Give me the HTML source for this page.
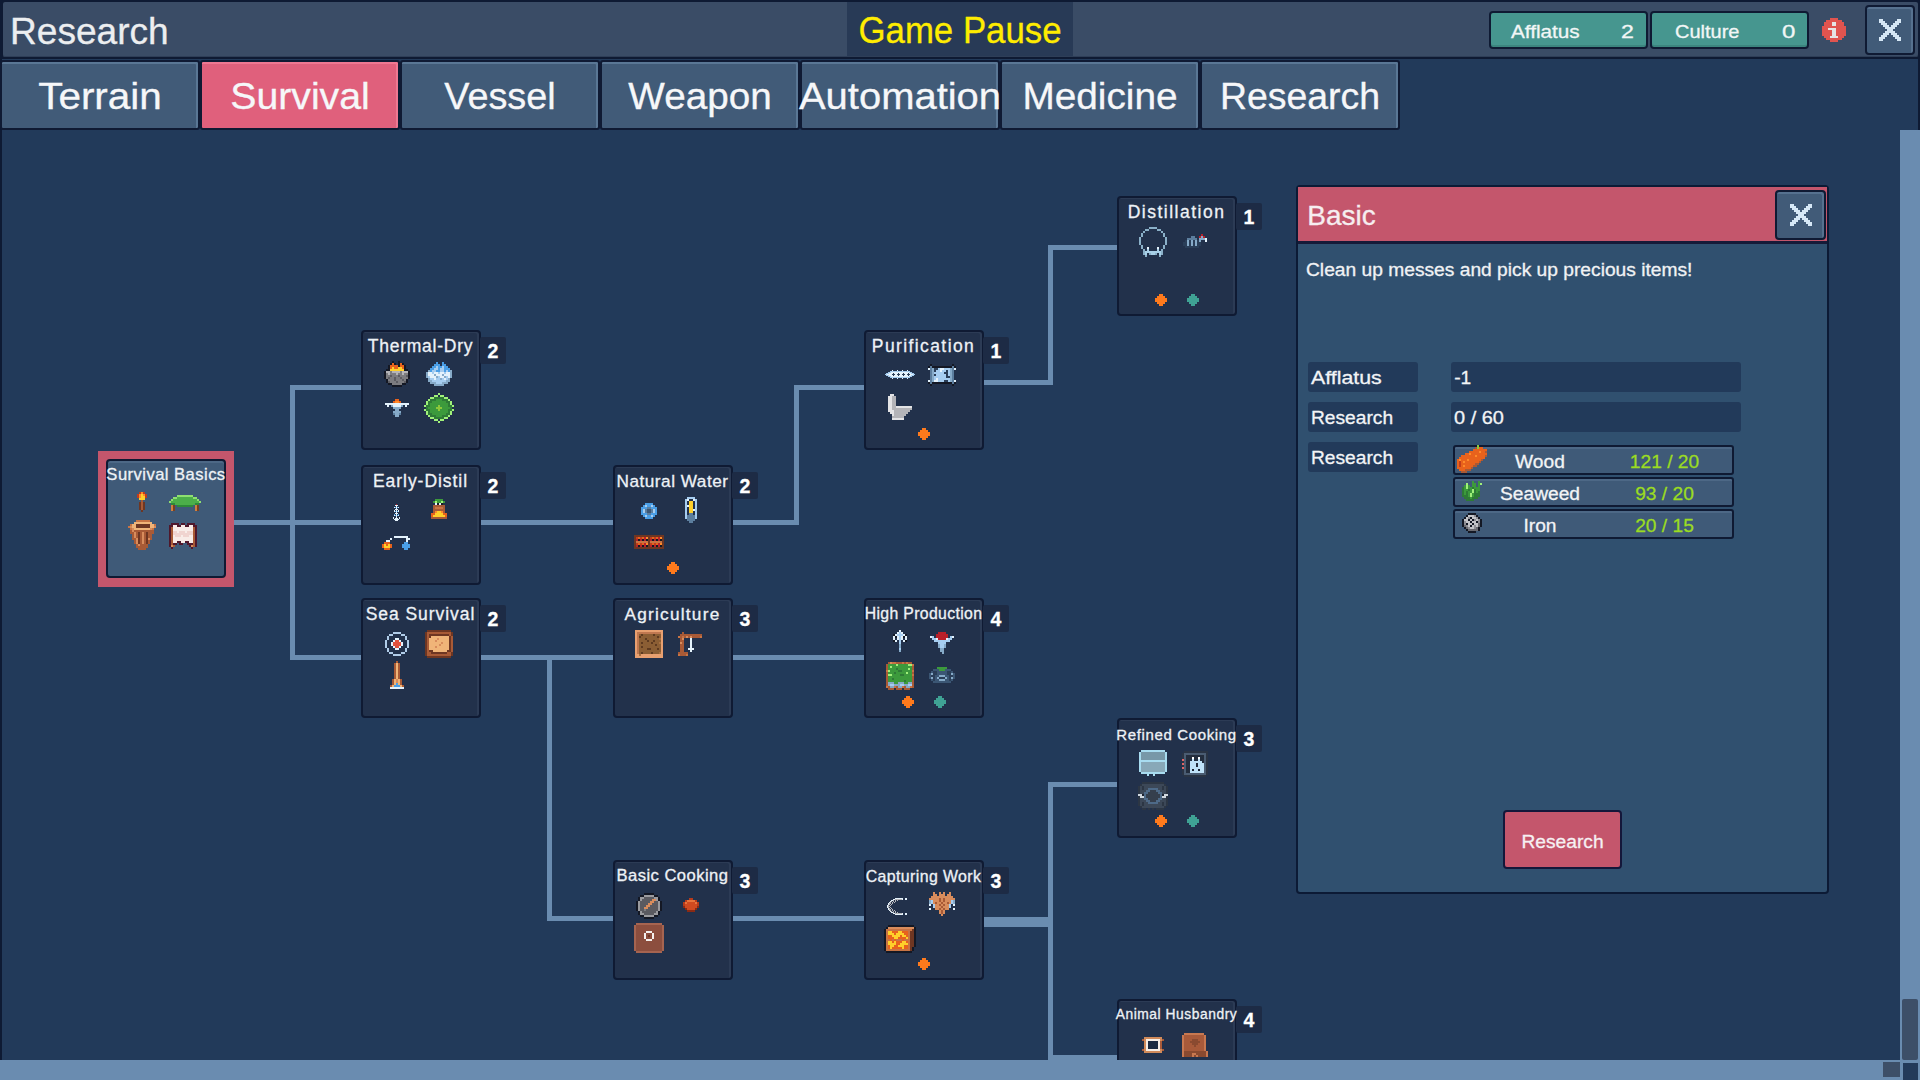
<!DOCTYPE html>
<html><head><meta charset="utf-8"><title>Research</title>
<style>
*{margin:0;padding:0;box-sizing:border-box;}
html,body{width:1920px;height:1080px;overflow:hidden;background:#0e1a33;font-family:"Liberation Sans",sans-serif;}
.a{position:absolute;}
.tx{position:absolute;white-space:nowrap;line-height:1;-webkit-text-stroke:0.3px currentColor;}
#hdr{left:3px;top:2px;width:1915px;height:55px;background:#3a4c66;box-shadow:inset 0 -1px 0 #2e3e57;border-radius:2px;}
#pause{left:847px;top:2px;width:226px;height:54px;background:#283a56;}
.res{top:11px;height:38px;background:#46968f;border:2px solid #0f1a33;border-radius:4px;box-shadow:inset 0 -2px 0 #3c857f;}
#info{left:1822px;top:18px;width:24px;height:24px;}
.xbtn{background:#415b78;border:2px solid #0f1a33;border-radius:4px;box-shadow:inset -2px 2px 0 #56718f;}
.tab{top:60px;width:200px;height:70px;background:#415b78;border:2px solid #0f1a33;box-shadow:inset -2px 2px 0 #5a7795;border-radius:3px;}
.tab.on{background:#e0607c;box-shadow:inset -2px 2px 0 #ef7892;}
#main{left:2px;top:59px;width:1916px;height:1001px;background:#223a5a;}
.ln{position:absolute;background:#6a8cb0;}
.node{position:absolute;width:120px;height:120px;background:#22314b;border:2px solid #0f1a33;border-radius:4px;box-shadow:inset -2px 1px 0 #2c3b55;}
.badge{position:absolute;width:26px;height:27px;background:#1d2b45;border-radius:2px;}
.dot{position:absolute;}
#panel{left:1296px;top:185px;width:533px;height:709px;background:#30506f;border:2px solid #0c1a35;border-radius:4px;}
#phead{left:0;top:0;width:529px;height:57px;background:#c4566c;border-bottom:3px solid #161a38;}
.lbl{position:absolute;height:30px;background:#223a5a;border-radius:3px;}
.rrow{position:absolute;width:281px;height:30px;background:#3f5a78;border:2px solid #0f1a33;border-radius:3px;box-shadow:inset 0 2px 0 #4d6886;}
#rbtn{left:1503px;top:810px;width:119px;height:59px;background:#c4566c;border:2px solid #14173a;border-radius:4px;}
svg{position:absolute;shape-rendering:crispEdges;overflow:visible;}
</style></head><body>
<div id="hdr" class="a"></div>
<div class="tx" style="left:9.5px;top:13.93px;font-size:36px;color:#eceef0;transform:scaleX(1.03);transform-origin:0 0;">Research</div>
<div id="pause" class="a"></div>
<div class="tx" style="left:960px;top:11.88px;font-size:37px;color:#ffec00;transform:translateX(-50%) scaleX(0.94);">Game Pause</div>
<div class="a res" style="left:1489px;width:159px;"></div>
<div class="a res" style="left:1650px;width:159px;"></div>
<div class="tx" style="left:1510.8px;top:22.54px;font-size:18.5px;color:#f2f6f6;transform:scaleX(1.12);transform-origin:0 0;">Afflatus</div>
<div class="tx" style="left:1621.1px;top:22.54px;font-size:18.5px;color:#f2f6f6;transform:scaleX(1.25);transform-origin:0 0;">2</div>
<div class="tx" style="left:1675.1px;top:22.54px;font-size:18.5px;color:#f2f6f6;transform:scaleX(1.08);transform-origin:0 0;">Culture</div>
<div class="tx" style="left:1781.7px;top:22.54px;font-size:18.5px;color:#f2f6f6;transform:scaleX(1.3);transform-origin:0 0;">0</div>
<svg style="left:1822px;top:18px;" width="24" height="24"><rect x="8" y="0" width="8" height="2" fill="#e0544f"/><rect x="4" y="2" width="16" height="2" fill="#e0544f"/><rect x="2" y="4" width="8" height="2" fill="#e0544f"/><rect x="10" y="4" width="4" height="2" fill="#e6e4e4"/><rect x="14" y="4" width="8" height="2" fill="#e0544f"/><rect x="2" y="6" width="8" height="2" fill="#e0544f"/><rect x="10" y="6" width="4" height="2" fill="#e6e4e4"/><rect x="14" y="6" width="8" height="2" fill="#e0544f"/><rect x="0" y="8" width="24" height="2" fill="#e0544f"/><rect x="0" y="10" width="6" height="2" fill="#e0544f"/><rect x="6" y="10" width="8" height="2" fill="#e6e4e4"/><rect x="14" y="10" width="10" height="2" fill="#e0544f"/><rect x="0" y="12" width="10" height="2" fill="#e0544f"/><rect x="10" y="12" width="4" height="2" fill="#e6e4e4"/><rect x="14" y="12" width="10" height="2" fill="#e0544f"/><rect x="0" y="14" width="10" height="2" fill="#e0544f"/><rect x="10" y="14" width="4" height="2" fill="#e6e4e4"/><rect x="14" y="14" width="10" height="2" fill="#e0544f"/><rect x="0" y="16" width="10" height="2" fill="#e0544f"/><rect x="10" y="16" width="4" height="2" fill="#e6e4e4"/><rect x="14" y="16" width="10" height="2" fill="#e0544f"/><rect x="2" y="18" width="6" height="2" fill="#e0544f"/><rect x="8" y="18" width="8" height="2" fill="#e6e4e4"/><rect x="16" y="18" width="6" height="2" fill="#e0544f"/><rect x="4" y="20" width="16" height="2" fill="#e0544f"/><rect x="8" y="22" width="8" height="2" fill="#e0544f"/></svg>
<div class="a xbtn" style="left:1865px;top:5px;width:50px;height:50px;"></div>
<svg style="left:1879px;top:19px;" width="22" height="22"><rect x="0" y="0" width="4" height="2" fill="#d6e8f6"/><rect x="18" y="0" width="4" height="2" fill="#d6e8f6"/><rect x="0" y="2" width="6" height="2" fill="#d6e8f6"/><rect x="16" y="2" width="6" height="2" fill="#d6e8f6"/><rect x="2" y="4" width="6" height="2" fill="#d6e8f6"/><rect x="14" y="4" width="6" height="2" fill="#d6e8f6"/><rect x="4" y="6" width="6" height="2" fill="#d6e8f6"/><rect x="12" y="6" width="6" height="2" fill="#d6e8f6"/><rect x="6" y="8" width="10" height="2" fill="#d6e8f6"/><rect x="8" y="10" width="6" height="2" fill="#d6e8f6"/><rect x="6" y="12" width="10" height="2" fill="#d6e8f6"/><rect x="4" y="14" width="6" height="2" fill="#d6e8f6"/><rect x="12" y="14" width="6" height="2" fill="#d6e8f6"/><rect x="2" y="16" width="6" height="2" fill="#d6e8f6"/><rect x="14" y="16" width="6" height="2" fill="#d6e8f6"/><rect x="0" y="18" width="6" height="2" fill="#d6e8f6"/><rect x="16" y="18" width="6" height="2" fill="#d6e8f6"/><rect x="0" y="20" width="4" height="2" fill="#d6e8f6"/><rect x="18" y="20" width="4" height="2" fill="#d6e8f6"/></svg>
<div id="main" class="a"></div>
<div class="a tab" style="left:0px;"></div>
<div class="tx" style="left:100px;top:78.53px;font-size:36px;color:#f6f7f9;transform:translateX(-50%) scaleX(1.124);">Terrain</div>
<div class="a tab on" style="left:200px;"></div>
<div class="tx" style="left:300px;top:78.53px;font-size:36px;color:#f6f7f9;transform:translateX(-50%) scaleX(1.09);">Survival</div>
<div class="a tab" style="left:400px;"></div>
<div class="tx" style="left:500px;top:78.53px;font-size:36px;color:#f6f7f9;transform:translateX(-50%) scaleX(1.05);">Vessel</div>
<div class="a tab" style="left:600px;"></div>
<div class="tx" style="left:700px;top:78.53px;font-size:36px;color:#f6f7f9;transform:translateX(-50%) scaleX(1.074);">Weapon</div>
<div class="a tab" style="left:800px;"></div>
<div class="tx" style="left:900px;top:78.53px;font-size:36px;color:#f6f7f9;transform:translateX(-50%) scaleX(1.11);">Automation</div>
<div class="a tab" style="left:1000px;"></div>
<div class="tx" style="left:1100px;top:78.53px;font-size:36px;color:#f6f7f9;transform:translateX(-50%) scaleX(1.077);">Medicine</div>
<div class="a tab" style="left:1200px;"></div>
<div class="tx" style="left:1300px;top:78.53px;font-size:36px;color:#f6f7f9;transform:translateX(-50%) scaleX(1.039);">Research</div>
<div class="ln" style="left:234px;top:520px;width:127px;height:5px;"></div>
<div class="ln" style="left:290px;top:385px;width:5px;height:275px;"></div>
<div class="ln" style="left:290px;top:385px;width:71px;height:5px;"></div>
<div class="ln" style="left:290px;top:655px;width:71px;height:5px;"></div>
<div class="ln" style="left:480px;top:520px;width:133px;height:5px;"></div>
<div class="ln" style="left:732px;top:520px;width:67px;height:5px;"></div>
<div class="ln" style="left:794px;top:385px;width:5px;height:140px;"></div>
<div class="ln" style="left:794px;top:385px;width:70px;height:5px;"></div>
<div class="ln" style="left:983px;top:380px;width:70px;height:5px;"></div>
<div class="ln" style="left:1048px;top:245px;width:5px;height:140px;"></div>
<div class="ln" style="left:1048px;top:245px;width:69px;height:5px;"></div>
<div class="ln" style="left:480px;top:655px;width:133px;height:5px;"></div>
<div class="ln" style="left:547px;top:655px;width:5px;height:266px;"></div>
<div class="ln" style="left:547px;top:916px;width:66px;height:5px;"></div>
<div class="ln" style="left:732px;top:655px;width:132px;height:5px;"></div>
<div class="ln" style="left:732px;top:916px;width:132px;height:5px;"></div>
<div class="ln" style="left:983px;top:917px;width:70px;height:10px;"></div>
<div class="ln" style="left:1048px;top:782px;width:5px;height:280px;"></div>
<div class="ln" style="left:1048px;top:782px;width:69px;height:5px;"></div>
<div class="ln" style="left:1048px;top:1055px;width:69px;height:5px;"></div>
<div class="node" style="left:361px;top:330px;"></div>
<div class="badge" style="left:480px;top:337px;"></div>
<div class="tx" style="left:420.5px;top:337.99px;font-size:17.5px;color:#eef2f6;letter-spacing:0.75px;transform:translateX(-50%);">Thermal-Dry</div>
<div class="tx" style="left:493px;top:342.29px;font-size:19.5px;color:#ffffff;font-weight:bold;transform:translateX(-50%);">2</div>
<svg style="left:384px;top:361px;" width="26" height="26"><rect x="8" y="0" width="2" height="2" fill="#141824"/><rect x="14" y="0" width="2" height="2" fill="#141824"/><rect x="6" y="2" width="2" height="2" fill="#141824"/><rect x="8" y="2" width="2" height="2" fill="#e8621c"/><rect x="10" y="2" width="2" height="2" fill="#141824"/><rect x="14" y="2" width="2" height="2" fill="#141824"/><rect x="16" y="2" width="2" height="2" fill="#e8621c"/><rect x="18" y="2" width="2" height="2" fill="#141824"/><rect x="4" y="4" width="2" height="2" fill="#141824"/><rect x="6" y="4" width="8" height="2" fill="#e8621c"/><rect x="14" y="4" width="2" height="2" fill="#141824"/><rect x="16" y="4" width="4" height="2" fill="#e8621c"/><rect x="20" y="4" width="2" height="2" fill="#141824"/><rect x="4" y="6" width="2" height="2" fill="#141824"/><rect x="6" y="6" width="2" height="2" fill="#e8621c"/><rect x="8" y="6" width="2" height="2" fill="#ffd02a"/><rect x="10" y="6" width="4" height="2" fill="#e8621c"/><rect x="14" y="6" width="4" height="2" fill="#ffd02a"/><rect x="18" y="6" width="2" height="2" fill="#e8621c"/><rect x="20" y="6" width="2" height="2" fill="#141824"/><rect x="2" y="8" width="4" height="2" fill="#141824"/><rect x="6" y="8" width="14" height="2" fill="#ffd02a"/><rect x="20" y="8" width="4" height="2" fill="#141824"/><rect x="0" y="10" width="2" height="2" fill="#141824"/><rect x="2" y="10" width="4" height="2" fill="#b4b4b8"/><rect x="6" y="10" width="2" height="2" fill="#7c7c80"/><rect x="8" y="10" width="8" height="2" fill="#b4b4b8"/><rect x="16" y="10" width="2" height="2" fill="#7c7c80"/><rect x="18" y="10" width="6" height="2" fill="#b4b4b8"/><rect x="24" y="10" width="2" height="2" fill="#141824"/><rect x="0" y="12" width="2" height="2" fill="#141824"/><rect x="2" y="12" width="2" height="2" fill="#7c7c80"/><rect x="4" y="12" width="2" height="2" fill="#b4b4b8"/><rect x="6" y="12" width="6" height="2" fill="#7c7c80"/><rect x="12" y="12" width="2" height="2" fill="#b4b4b8"/><rect x="14" y="12" width="4" height="2" fill="#7c7c80"/><rect x="18" y="12" width="2" height="2" fill="#b4b4b8"/><rect x="20" y="12" width="4" height="2" fill="#7c7c80"/><rect x="24" y="12" width="2" height="2" fill="#141824"/><rect x="0" y="14" width="2" height="2" fill="#141824"/><rect x="2" y="14" width="4" height="2" fill="#7c7c80"/><rect x="6" y="14" width="2" height="2" fill="#5c5c62"/><rect x="8" y="14" width="6" height="2" fill="#7c7c80"/><rect x="14" y="14" width="2" height="2" fill="#5c5c62"/><rect x="16" y="14" width="6" height="2" fill="#7c7c80"/><rect x="22" y="14" width="2" height="2" fill="#5c5c62"/><rect x="24" y="14" width="2" height="2" fill="#141824"/><rect x="0" y="16" width="2" height="2" fill="#141824"/><rect x="2" y="16" width="2" height="2" fill="#7c7c80"/><rect x="4" y="16" width="2" height="2" fill="#5c5c62"/><rect x="6" y="16" width="4" height="2" fill="#7c7c80"/><rect x="10" y="16" width="2" height="2" fill="#5c5c62"/><rect x="12" y="16" width="4" height="2" fill="#7c7c80"/><rect x="16" y="16" width="2" height="2" fill="#5c5c62"/><rect x="18" y="16" width="6" height="2" fill="#7c7c80"/><rect x="24" y="16" width="2" height="2" fill="#141824"/><rect x="2" y="18" width="2" height="2" fill="#141824"/><rect x="4" y="18" width="6" height="2" fill="#7c7c80"/><rect x="10" y="18" width="2" height="2" fill="#5c5c62"/><rect x="12" y="18" width="6" height="2" fill="#7c7c80"/><rect x="18" y="18" width="2" height="2" fill="#5c5c62"/><rect x="20" y="18" width="2" height="2" fill="#7c7c80"/><rect x="22" y="18" width="2" height="2" fill="#141824"/><rect x="2" y="20" width="2" height="2" fill="#141824"/><rect x="4" y="20" width="2" height="2" fill="#5c5c62"/><rect x="6" y="20" width="6" height="2" fill="#7c7c80"/><rect x="12" y="20" width="2" height="2" fill="#5c5c62"/><rect x="14" y="20" width="6" height="2" fill="#7c7c80"/><rect x="20" y="20" width="2" height="2" fill="#5c5c62"/><rect x="22" y="20" width="2" height="2" fill="#141824"/><rect x="4" y="22" width="4" height="2" fill="#141824"/><rect x="8" y="22" width="10" height="2" fill="#7c7c80"/><rect x="18" y="22" width="4" height="2" fill="#141824"/><rect x="8" y="24" width="10" height="2" fill="#141824"/></svg>
<svg style="left:426px;top:362px;" width="26" height="24"><rect x="10" y="0" width="2" height="2" fill="#4a9ee6"/><rect x="16" y="0" width="2" height="2" fill="#4a9ee6"/><rect x="8" y="2" width="6" height="2" fill="#4a9ee6"/><rect x="16" y="2" width="4" height="2" fill="#4a9ee6"/><rect x="6" y="4" width="4" height="2" fill="#4a9ee6"/><rect x="10" y="4" width="2" height="2" fill="#a6cdf0"/><rect x="12" y="4" width="4" height="2" fill="#4a9ee6"/><rect x="16" y="4" width="2" height="2" fill="#a6cdf0"/><rect x="18" y="4" width="4" height="2" fill="#4a9ee6"/><rect x="4" y="6" width="4" height="2" fill="#4a9ee6"/><rect x="8" y="6" width="4" height="2" fill="#a6cdf0"/><rect x="12" y="6" width="2" height="2" fill="#4a9ee6"/><rect x="14" y="6" width="4" height="2" fill="#a6cdf0"/><rect x="18" y="6" width="6" height="2" fill="#4a9ee6"/><rect x="2" y="8" width="2" height="2" fill="#86aac8"/><rect x="4" y="8" width="2" height="2" fill="#4a9ee6"/><rect x="6" y="8" width="4" height="2" fill="#a6cdf0"/><rect x="10" y="8" width="4" height="2" fill="#4a9ee6"/><rect x="14" y="8" width="4" height="2" fill="#a6cdf0"/><rect x="18" y="8" width="2" height="2" fill="#4a9ee6"/><rect x="20" y="8" width="2" height="2" fill="#a6cdf0"/><rect x="22" y="8" width="2" height="2" fill="#4a9ee6"/><rect x="24" y="8" width="2" height="2" fill="#86aac8"/><rect x="0" y="10" width="2" height="2" fill="#86aac8"/><rect x="2" y="10" width="4" height="2" fill="#e4f2fc"/><rect x="6" y="10" width="2" height="2" fill="#a6cdf0"/><rect x="8" y="10" width="4" height="2" fill="#e4f2fc"/><rect x="12" y="10" width="2" height="2" fill="#a6cdf0"/><rect x="14" y="10" width="4" height="2" fill="#e4f2fc"/><rect x="18" y="10" width="2" height="2" fill="#a6cdf0"/><rect x="20" y="10" width="4" height="2" fill="#e4f2fc"/><rect x="24" y="10" width="2" height="2" fill="#86aac8"/><rect x="0" y="12" width="2" height="2" fill="#86aac8"/><rect x="2" y="12" width="6" height="2" fill="#e4f2fc"/><rect x="8" y="12" width="2" height="2" fill="#86aac8"/><rect x="10" y="12" width="6" height="2" fill="#e4f2fc"/><rect x="16" y="12" width="2" height="2" fill="#86aac8"/><rect x="18" y="12" width="6" height="2" fill="#e4f2fc"/><rect x="24" y="12" width="2" height="2" fill="#86aac8"/><rect x="0" y="14" width="2" height="2" fill="#86aac8"/><rect x="2" y="14" width="2" height="2" fill="#a6cdf0"/><rect x="4" y="14" width="6" height="2" fill="#e4f2fc"/><rect x="10" y="14" width="2" height="2" fill="#86aac8"/><rect x="12" y="14" width="2" height="2" fill="#a6cdf0"/><rect x="14" y="14" width="4" height="2" fill="#e4f2fc"/><rect x="18" y="14" width="2" height="2" fill="#86aac8"/><rect x="20" y="14" width="2" height="2" fill="#a6cdf0"/><rect x="22" y="14" width="2" height="2" fill="#e4f2fc"/><rect x="24" y="14" width="2" height="2" fill="#86aac8"/><rect x="2" y="16" width="2" height="2" fill="#86aac8"/><rect x="4" y="16" width="4" height="2" fill="#a6cdf0"/><rect x="8" y="16" width="2" height="2" fill="#e4f2fc"/><rect x="10" y="16" width="4" height="2" fill="#a6cdf0"/><rect x="14" y="16" width="2" height="2" fill="#86aac8"/><rect x="16" y="16" width="2" height="2" fill="#a6cdf0"/><rect x="18" y="16" width="2" height="2" fill="#e4f2fc"/><rect x="20" y="16" width="2" height="2" fill="#a6cdf0"/><rect x="22" y="16" width="2" height="2" fill="#86aac8"/><rect x="2" y="18" width="4" height="2" fill="#86aac8"/><rect x="6" y="18" width="14" height="2" fill="#a6cdf0"/><rect x="20" y="18" width="4" height="2" fill="#86aac8"/><rect x="4" y="20" width="6" height="2" fill="#86aac8"/><rect x="10" y="20" width="6" height="2" fill="#a6cdf0"/><rect x="16" y="20" width="6" height="2" fill="#86aac8"/><rect x="8" y="22" width="10" height="2" fill="#86aac8"/></svg>
<svg style="left:385px;top:399px;" width="24" height="18"><rect x="10" y="0" width="4" height="2" fill="#e8621c"/><rect x="8" y="2" width="2" height="2" fill="#e8621c"/><rect x="10" y="2" width="4" height="2" fill="#ff8a2a"/><rect x="14" y="2" width="2" height="2" fill="#e8621c"/><rect x="0" y="4" width="24" height="2" fill="#e4f2fc"/><rect x="2" y="6" width="2" height="2" fill="#e4f2fc"/><rect x="6" y="6" width="2" height="2" fill="#86aac8"/><rect x="8" y="6" width="8" height="2" fill="#e4f2fc"/><rect x="16" y="6" width="2" height="2" fill="#86aac8"/><rect x="20" y="6" width="2" height="2" fill="#e4f2fc"/><rect x="8" y="8" width="8" height="2" fill="#86aac8"/><rect x="10" y="10" width="4" height="2" fill="#86aac8"/><rect x="8" y="12" width="8" height="2" fill="#86aac8"/><rect x="8" y="14" width="2" height="2" fill="#5c7e9e"/><rect x="10" y="14" width="4" height="2" fill="#86aac8"/><rect x="14" y="14" width="2" height="2" fill="#5c7e9e"/><rect x="10" y="16" width="4" height="2" fill="#86aac8"/></svg>
<svg style="left:424px;top:393px;" width="30" height="30"><rect x="14" y="0" width="2" height="2" fill="#a0f07a"/><rect x="10" y="2" width="4" height="2" fill="#a0f07a"/><rect x="16" y="2" width="4" height="2" fill="#a0f07a"/><rect x="6" y="4" width="4" height="2" fill="#a0f07a"/><rect x="10" y="4" width="10" height="2" fill="#2e7a36"/><rect x="20" y="4" width="4" height="2" fill="#a0f07a"/><rect x="4" y="6" width="2" height="2" fill="#a0f07a"/><rect x="6" y="6" width="6" height="2" fill="#2e7a36"/><rect x="12" y="6" width="6" height="2" fill="#3c9a3c"/><rect x="18" y="6" width="6" height="2" fill="#2e7a36"/><rect x="24" y="6" width="2" height="2" fill="#a0f07a"/><rect x="2" y="8" width="2" height="2" fill="#a0f07a"/><rect x="4" y="8" width="4" height="2" fill="#2e7a36"/><rect x="8" y="8" width="14" height="2" fill="#3c9a3c"/><rect x="22" y="8" width="4" height="2" fill="#2e7a36"/><rect x="26" y="8" width="2" height="2" fill="#a0f07a"/><rect x="2" y="10" width="2" height="2" fill="#a0f07a"/><rect x="4" y="10" width="2" height="2" fill="#2e7a36"/><rect x="6" y="10" width="18" height="2" fill="#3c9a3c"/><rect x="24" y="10" width="2" height="2" fill="#2e7a36"/><rect x="26" y="10" width="2" height="2" fill="#a0f07a"/><rect x="0" y="12" width="2" height="2" fill="#a0f07a"/><rect x="2" y="12" width="4" height="2" fill="#2e7a36"/><rect x="6" y="12" width="8" height="2" fill="#3c9a3c"/><rect x="14" y="12" width="2" height="2" fill="#8cc83a"/><rect x="16" y="12" width="8" height="2" fill="#3c9a3c"/><rect x="24" y="12" width="4" height="2" fill="#2e7a36"/><rect x="28" y="12" width="2" height="2" fill="#a0f07a"/><rect x="2" y="14" width="2" height="2" fill="#2e7a36"/><rect x="4" y="14" width="8" height="2" fill="#3c9a3c"/><rect x="12" y="14" width="6" height="2" fill="#8cc83a"/><rect x="18" y="14" width="8" height="2" fill="#3c9a3c"/><rect x="26" y="14" width="2" height="2" fill="#2e7a36"/><rect x="0" y="16" width="2" height="2" fill="#a0f07a"/><rect x="2" y="16" width="4" height="2" fill="#2e7a36"/><rect x="6" y="16" width="8" height="2" fill="#3c9a3c"/><rect x="14" y="16" width="2" height="2" fill="#8cc83a"/><rect x="16" y="16" width="8" height="2" fill="#3c9a3c"/><rect x="24" y="16" width="4" height="2" fill="#2e7a36"/><rect x="28" y="16" width="2" height="2" fill="#a0f07a"/><rect x="2" y="18" width="2" height="2" fill="#a0f07a"/><rect x="4" y="18" width="2" height="2" fill="#2e7a36"/><rect x="6" y="18" width="18" height="2" fill="#3c9a3c"/><rect x="24" y="18" width="2" height="2" fill="#2e7a36"/><rect x="26" y="18" width="2" height="2" fill="#a0f07a"/><rect x="2" y="20" width="2" height="2" fill="#a0f07a"/><rect x="4" y="20" width="4" height="2" fill="#2e7a36"/><rect x="8" y="20" width="14" height="2" fill="#3c9a3c"/><rect x="22" y="20" width="4" height="2" fill="#2e7a36"/><rect x="26" y="20" width="2" height="2" fill="#a0f07a"/><rect x="4" y="22" width="2" height="2" fill="#a0f07a"/><rect x="6" y="22" width="6" height="2" fill="#2e7a36"/><rect x="12" y="22" width="6" height="2" fill="#3c9a3c"/><rect x="18" y="22" width="6" height="2" fill="#2e7a36"/><rect x="24" y="22" width="2" height="2" fill="#a0f07a"/><rect x="6" y="24" width="4" height="2" fill="#a0f07a"/><rect x="10" y="24" width="10" height="2" fill="#2e7a36"/><rect x="20" y="24" width="4" height="2" fill="#a0f07a"/><rect x="10" y="26" width="4" height="2" fill="#a0f07a"/><rect x="16" y="26" width="4" height="2" fill="#a0f07a"/><rect x="14" y="28" width="2" height="2" fill="#a0f07a"/></svg>
<div class="node" style="left:361px;top:465px;"></div>
<div class="badge" style="left:480px;top:472px;"></div>
<div class="tx" style="left:420.5px;top:472.99px;font-size:17.5px;color:#eef2f6;letter-spacing:0.95px;transform:translateX(-50%);">Early-Distil</div>
<div class="tx" style="left:493px;top:477.29px;font-size:19.5px;color:#ffffff;font-weight:bold;transform:translateX(-50%);">2</div>
<svg style="left:392px;top:504px;" width="9" height="17"><rect x="4" y="0" width="1" height="1" fill="#b8202a"/><rect x="3" y="1" width="3" height="1" fill="#e4f2fc"/><rect x="4" y="2" width="1" height="1" fill="#e4f2fc"/><rect x="2" y="3" width="1" height="1" fill="#e4f2fc"/><rect x="3" y="3" width="1" height="1" fill="#4a9ee6"/><rect x="4" y="3" width="1" height="1" fill="#e4f2fc"/><rect x="5" y="3" width="1" height="1" fill="#4a9ee6"/><rect x="6" y="3" width="1" height="1" fill="#e4f2fc"/><rect x="4" y="4" width="1" height="1" fill="#e4f2fc"/><rect x="3" y="5" width="3" height="1" fill="#e4f2fc"/><rect x="2" y="6" width="1" height="1" fill="#e4f2fc"/><rect x="4" y="6" width="1" height="1" fill="#e4f2fc"/><rect x="6" y="6" width="1" height="1" fill="#e4f2fc"/><rect x="2" y="7" width="1" height="1" fill="#e4f2fc"/><rect x="3" y="7" width="1" height="1" fill="#4a9ee6"/><rect x="4" y="7" width="1" height="1" fill="#e4f2fc"/><rect x="5" y="7" width="1" height="1" fill="#4a9ee6"/><rect x="6" y="7" width="1" height="1" fill="#e4f2fc"/><rect x="4" y="8" width="1" height="1" fill="#e4f2fc"/><rect x="3" y="9" width="3" height="1" fill="#e4f2fc"/><rect x="2" y="10" width="1" height="1" fill="#4a9ee6"/><rect x="4" y="10" width="1" height="1" fill="#e4f2fc"/><rect x="6" y="10" width="1" height="1" fill="#4a9ee6"/><rect x="2" y="11" width="1" height="1" fill="#e4f2fc"/><rect x="3" y="11" width="1" height="1" fill="#4a9ee6"/><rect x="4" y="11" width="1" height="1" fill="#e4f2fc"/><rect x="5" y="11" width="1" height="1" fill="#4a9ee6"/><rect x="6" y="11" width="1" height="1" fill="#e4f2fc"/><rect x="4" y="12" width="1" height="1" fill="#e4f2fc"/><rect x="1" y="13" width="1" height="1" fill="#e4f2fc"/><rect x="4" y="13" width="1" height="1" fill="#e4f2fc"/><rect x="7" y="13" width="1" height="1" fill="#e4f2fc"/><rect x="1" y="14" width="1" height="1" fill="#e4f2fc"/><rect x="3" y="14" width="3" height="1" fill="#e4f2fc"/><rect x="7" y="14" width="1" height="1" fill="#e4f2fc"/><rect x="2" y="15" width="5" height="1" fill="#e4f2fc"/><rect x="3" y="16" width="3" height="1" fill="#e4f2fc"/></svg>
<svg style="left:431px;top:499px;" width="16" height="20"><rect x="4" y="0" width="8" height="2" fill="#3c9a3c"/><rect x="2" y="2" width="2" height="2" fill="#3c9a3c"/><rect x="4" y="2" width="2" height="2" fill="#a0f07a"/><rect x="6" y="2" width="4" height="2" fill="#3c9a3c"/><rect x="10" y="2" width="2" height="2" fill="#a0f07a"/><rect x="12" y="2" width="2" height="2" fill="#3c9a3c"/><rect x="4" y="4" width="2" height="2" fill="#e4f2fc"/><rect x="6" y="4" width="2" height="2" fill="#141824"/><rect x="8" y="4" width="2" height="2" fill="#e4f2fc"/><rect x="10" y="4" width="2" height="2" fill="#141824"/><rect x="2" y="6" width="12" height="2" fill="#a85a36"/><rect x="2" y="8" width="2" height="2" fill="#a85a36"/><rect x="4" y="8" width="8" height="2" fill="#c87444"/><rect x="12" y="8" width="2" height="2" fill="#a85a36"/><rect x="2" y="10" width="12" height="2" fill="#a85a36"/><rect x="2" y="12" width="2" height="2" fill="#a85a36"/><rect x="4" y="12" width="2" height="2" fill="#ff8a2a"/><rect x="6" y="12" width="4" height="2" fill="#ffd02a"/><rect x="10" y="12" width="2" height="2" fill="#ff8a2a"/><rect x="12" y="12" width="2" height="2" fill="#a85a36"/><rect x="0" y="14" width="4" height="2" fill="#e8621c"/><rect x="4" y="14" width="8" height="2" fill="#ffd02a"/><rect x="12" y="14" width="4" height="2" fill="#e8621c"/><rect x="0" y="16" width="2" height="2" fill="#e8621c"/><rect x="2" y="16" width="12" height="2" fill="#ffd02a"/><rect x="14" y="16" width="2" height="2" fill="#e8621c"/><rect x="0" y="18" width="16" height="2" fill="#a85a36"/></svg>
<svg style="left:382px;top:536px;" width="30" height="14"><rect x="12" y="0" width="14" height="2" fill="#e4f2fc"/><rect x="8" y="2" width="2" height="2" fill="#e4f2fc"/><rect x="24" y="2" width="4" height="2" fill="#e4f2fc"/><rect x="4" y="4" width="4" height="2" fill="#e4f2fc"/><rect x="24" y="4" width="2" height="2" fill="#e4f2fc"/><rect x="2" y="6" width="6" height="2" fill="#e8621c"/><rect x="22" y="6" width="4" height="2" fill="#4a9ee6"/><rect x="0" y="8" width="2" height="2" fill="#e8621c"/><rect x="2" y="8" width="2" height="2" fill="#ffd02a"/><rect x="4" y="8" width="2" height="2" fill="#e8621c"/><rect x="6" y="8" width="2" height="2" fill="#ffd02a"/><rect x="8" y="8" width="2" height="2" fill="#e8621c"/><rect x="20" y="8" width="8" height="2" fill="#4a9ee6"/><rect x="0" y="10" width="2" height="2" fill="#e8621c"/><rect x="2" y="10" width="6" height="2" fill="#ffd02a"/><rect x="8" y="10" width="2" height="2" fill="#e8621c"/><rect x="20" y="10" width="8" height="2" fill="#4a9ee6"/><rect x="2" y="12" width="6" height="2" fill="#e8621c"/><rect x="22" y="12" width="4" height="2" fill="#4a9ee6"/></svg>
<div class="node" style="left:361px;top:598px;"></div>
<div class="badge" style="left:480px;top:605px;"></div>
<div class="tx" style="left:420.5px;top:606.29px;font-size:17.5px;color:#eef2f6;letter-spacing:0.95px;transform:translateX(-50%);">Sea Survival</div>
<div class="tx" style="left:493px;top:610.29px;font-size:19.5px;color:#ffffff;font-weight:bold;transform:translateX(-50%);">2</div>
<svg style="left:385px;top:632px;" width="24" height="24"><rect x="8" y="0" width="8" height="2" fill="#b0cce8"/><rect x="4" y="2" width="4" height="2" fill="#b0cce8"/><rect x="16" y="2" width="4" height="2" fill="#b0cce8"/><rect x="2" y="4" width="2" height="2" fill="#b0cce8"/><rect x="20" y="4" width="2" height="2" fill="#b0cce8"/><rect x="2" y="6" width="2" height="2" fill="#b0cce8"/><rect x="10" y="6" width="4" height="2" fill="#e4f2fc"/><rect x="20" y="6" width="2" height="2" fill="#b0cce8"/><rect x="0" y="8" width="2" height="2" fill="#b0cce8"/><rect x="8" y="8" width="2" height="2" fill="#e4f2fc"/><rect x="10" y="8" width="4" height="2" fill="#e0503c"/><rect x="14" y="8" width="2" height="2" fill="#e4f2fc"/><rect x="22" y="8" width="2" height="2" fill="#b0cce8"/><rect x="0" y="10" width="2" height="2" fill="#b0cce8"/><rect x="6" y="10" width="2" height="2" fill="#e4f2fc"/><rect x="8" y="10" width="8" height="2" fill="#e0503c"/><rect x="16" y="10" width="2" height="2" fill="#e4f2fc"/><rect x="22" y="10" width="2" height="2" fill="#b0cce8"/><rect x="0" y="12" width="2" height="2" fill="#b0cce8"/><rect x="6" y="12" width="2" height="2" fill="#e4f2fc"/><rect x="8" y="12" width="8" height="2" fill="#e0503c"/><rect x="16" y="12" width="2" height="2" fill="#e4f2fc"/><rect x="22" y="12" width="2" height="2" fill="#b0cce8"/><rect x="0" y="14" width="2" height="2" fill="#b0cce8"/><rect x="8" y="14" width="2" height="2" fill="#e4f2fc"/><rect x="10" y="14" width="4" height="2" fill="#e0503c"/><rect x="14" y="14" width="2" height="2" fill="#e4f2fc"/><rect x="22" y="14" width="2" height="2" fill="#b0cce8"/><rect x="2" y="16" width="2" height="2" fill="#b0cce8"/><rect x="10" y="16" width="4" height="2" fill="#e4f2fc"/><rect x="20" y="16" width="2" height="2" fill="#b0cce8"/><rect x="2" y="18" width="2" height="2" fill="#b0cce8"/><rect x="20" y="18" width="2" height="2" fill="#b0cce8"/><rect x="4" y="20" width="4" height="2" fill="#b0cce8"/><rect x="16" y="20" width="4" height="2" fill="#b0cce8"/><rect x="8" y="22" width="8" height="2" fill="#b0cce8"/></svg>
<svg style="left:425px;top:630px;" width="28" height="28"><rect x="2" y="0" width="24" height="2" fill="#6e3622"/><rect x="0" y="2" width="2" height="2" fill="#6e3622"/><rect x="2" y="2" width="24" height="2" fill="#a85a36"/><rect x="26" y="2" width="2" height="2" fill="#6e3622"/><rect x="0" y="4" width="2" height="2" fill="#6e3622"/><rect x="2" y="4" width="2" height="2" fill="#a85a36"/><rect x="4" y="4" width="20" height="2" fill="#6e3622"/><rect x="24" y="4" width="2" height="2" fill="#a85a36"/><rect x="26" y="4" width="2" height="2" fill="#6e3622"/><rect x="0" y="6" width="2" height="2" fill="#6e3622"/><rect x="2" y="6" width="2" height="2" fill="#a85a36"/><rect x="4" y="6" width="2" height="2" fill="#6e3622"/><rect x="6" y="6" width="18" height="2" fill="#f0b478"/><rect x="24" y="6" width="2" height="2" fill="#6e3622"/><rect x="26" y="6" width="2" height="2" fill="#a85a36"/><rect x="0" y="8" width="2" height="2" fill="#6e3622"/><rect x="2" y="8" width="2" height="2" fill="#a85a36"/><rect x="4" y="8" width="8" height="2" fill="#f0b478"/><rect x="12" y="8" width="2" height="2" fill="#d88c5c"/><rect x="14" y="8" width="10" height="2" fill="#f0b478"/><rect x="24" y="8" width="2" height="2" fill="#6e3622"/><rect x="26" y="8" width="2" height="2" fill="#a85a36"/><rect x="0" y="10" width="2" height="2" fill="#6e3622"/><rect x="2" y="10" width="2" height="2" fill="#a85a36"/><rect x="4" y="10" width="6" height="2" fill="#f0b478"/><rect x="10" y="10" width="2" height="2" fill="#d88c5c"/><rect x="12" y="10" width="12" height="2" fill="#f0b478"/><rect x="24" y="10" width="2" height="2" fill="#6e3622"/><rect x="26" y="10" width="2" height="2" fill="#a85a36"/><rect x="0" y="12" width="2" height="2" fill="#6e3622"/><rect x="2" y="12" width="2" height="2" fill="#a85a36"/><rect x="4" y="12" width="12" height="2" fill="#f0b478"/><rect x="16" y="12" width="2" height="2" fill="#d88c5c"/><rect x="18" y="12" width="6" height="2" fill="#f0b478"/><rect x="24" y="12" width="2" height="2" fill="#6e3622"/><rect x="26" y="12" width="2" height="2" fill="#a85a36"/><rect x="0" y="14" width="2" height="2" fill="#6e3622"/><rect x="2" y="14" width="2" height="2" fill="#a85a36"/><rect x="4" y="14" width="10" height="2" fill="#f0b478"/><rect x="14" y="14" width="2" height="2" fill="#d88c5c"/><rect x="16" y="14" width="8" height="2" fill="#f0b478"/><rect x="24" y="14" width="2" height="2" fill="#6e3622"/><rect x="26" y="14" width="2" height="2" fill="#a85a36"/><rect x="0" y="16" width="2" height="2" fill="#6e3622"/><rect x="2" y="16" width="2" height="2" fill="#a85a36"/><rect x="4" y="16" width="6" height="2" fill="#f0b478"/><rect x="10" y="16" width="2" height="2" fill="#d88c5c"/><rect x="12" y="16" width="12" height="2" fill="#f0b478"/><rect x="24" y="16" width="2" height="2" fill="#6e3622"/><rect x="26" y="16" width="2" height="2" fill="#a85a36"/><rect x="0" y="18" width="2" height="2" fill="#6e3622"/><rect x="2" y="18" width="2" height="2" fill="#a85a36"/><rect x="4" y="18" width="20" height="2" fill="#f0b478"/><rect x="24" y="18" width="2" height="2" fill="#6e3622"/><rect x="26" y="18" width="2" height="2" fill="#a85a36"/><rect x="0" y="20" width="2" height="2" fill="#6e3622"/><rect x="2" y="20" width="2" height="2" fill="#a85a36"/><rect x="4" y="20" width="4" height="2" fill="#6e3622"/><rect x="8" y="20" width="14" height="2" fill="#f0b478"/><rect x="22" y="20" width="4" height="2" fill="#6e3622"/><rect x="26" y="20" width="2" height="2" fill="#a85a36"/><rect x="0" y="22" width="2" height="2" fill="#6e3622"/><rect x="2" y="22" width="4" height="2" fill="#a85a36"/><rect x="6" y="22" width="16" height="2" fill="#6e3622"/><rect x="22" y="22" width="4" height="2" fill="#a85a36"/><rect x="26" y="22" width="2" height="2" fill="#6e3622"/><rect x="0" y="24" width="2" height="2" fill="#6e3622"/><rect x="2" y="24" width="24" height="2" fill="#a85a36"/><rect x="26" y="24" width="2" height="2" fill="#6e3622"/><rect x="2" y="26" width="24" height="2" fill="#6e3622"/></svg>
<svg style="left:390px;top:661px;" width="14" height="28"><rect x="6" y="0" width="2" height="2" fill="#a85a36"/><rect x="4" y="2" width="2" height="2" fill="#a85a36"/><rect x="6" y="2" width="2" height="2" fill="#f0b478"/><rect x="8" y="2" width="2" height="2" fill="#a85a36"/><rect x="4" y="4" width="2" height="2" fill="#a85a36"/><rect x="6" y="4" width="2" height="2" fill="#f0b478"/><rect x="8" y="4" width="2" height="2" fill="#a85a36"/><rect x="4" y="6" width="2" height="2" fill="#a85a36"/><rect x="6" y="6" width="2" height="2" fill="#f0b478"/><rect x="8" y="6" width="2" height="2" fill="#a85a36"/><rect x="4" y="8" width="2" height="2" fill="#a85a36"/><rect x="6" y="8" width="2" height="2" fill="#f0b478"/><rect x="8" y="8" width="2" height="2" fill="#a85a36"/><rect x="4" y="10" width="2" height="2" fill="#a85a36"/><rect x="6" y="10" width="2" height="2" fill="#f0b478"/><rect x="8" y="10" width="2" height="2" fill="#a85a36"/><rect x="4" y="12" width="2" height="2" fill="#a85a36"/><rect x="6" y="12" width="2" height="2" fill="#f0b478"/><rect x="8" y="12" width="2" height="2" fill="#a85a36"/><rect x="4" y="14" width="2" height="2" fill="#a85a36"/><rect x="6" y="14" width="2" height="2" fill="#f0b478"/><rect x="8" y="14" width="2" height="2" fill="#a85a36"/><rect x="4" y="16" width="2" height="2" fill="#a85a36"/><rect x="6" y="16" width="2" height="2" fill="#f0b478"/><rect x="8" y="16" width="2" height="2" fill="#a85a36"/><rect x="2" y="18" width="2" height="2" fill="#a85a36"/><rect x="4" y="18" width="2" height="2" fill="#f0b478"/><rect x="6" y="18" width="2" height="2" fill="#d88c5c"/><rect x="8" y="18" width="2" height="2" fill="#f0b478"/><rect x="10" y="18" width="2" height="2" fill="#a85a36"/><rect x="2" y="20" width="2" height="2" fill="#a85a36"/><rect x="4" y="20" width="2" height="2" fill="#f0b478"/><rect x="6" y="20" width="2" height="2" fill="#d88c5c"/><rect x="8" y="20" width="2" height="2" fill="#f0b478"/><rect x="10" y="20" width="2" height="2" fill="#a85a36"/><rect x="2" y="22" width="2" height="2" fill="#a85a36"/><rect x="4" y="22" width="2" height="2" fill="#f0b478"/><rect x="6" y="22" width="2" height="2" fill="#4a9ee6"/><rect x="8" y="22" width="2" height="2" fill="#f0b478"/><rect x="10" y="22" width="2" height="2" fill="#a85a36"/><rect x="0" y="24" width="2" height="2" fill="#a85a36"/><rect x="2" y="24" width="2" height="2" fill="#f0b478"/><rect x="4" y="24" width="6" height="2" fill="#4a9ee6"/><rect x="10" y="24" width="2" height="2" fill="#f0b478"/><rect x="12" y="24" width="2" height="2" fill="#a85a36"/><rect x="0" y="26" width="14" height="2" fill="#e4f2fc"/></svg>
<div class="node" style="left:613px;top:465px;"></div>
<div class="badge" style="left:732px;top:472px;"></div>
<div class="tx" style="left:672.5px;top:472.54px;font-size:17.2px;color:#eef2f6;letter-spacing:0.5px;transform:translateX(-50%);">Natural Water</div>
<div class="tx" style="left:745px;top:477.29px;font-size:19.5px;color:#ffffff;font-weight:bold;transform:translateX(-50%);">2</div>
<svg style="left:641px;top:503px;" width="16" height="16"><rect x="4" y="0" width="8" height="2" fill="#4a9ee6"/><rect x="2" y="2" width="2" height="2" fill="#4a9ee6"/><rect x="4" y="2" width="2" height="2" fill="#a6cdf0"/><rect x="6" y="2" width="4" height="2" fill="#4a9ee6"/><rect x="10" y="2" width="2" height="2" fill="#a6cdf0"/><rect x="12" y="2" width="2" height="2" fill="#4a9ee6"/><rect x="0" y="4" width="6" height="2" fill="#4a9ee6"/><rect x="6" y="4" width="4" height="2" fill="#5c7e9e"/><rect x="10" y="4" width="6" height="2" fill="#4a9ee6"/><rect x="0" y="6" width="2" height="2" fill="#4a9ee6"/><rect x="2" y="6" width="2" height="2" fill="#a6cdf0"/><rect x="4" y="6" width="2" height="2" fill="#5c7e9e"/><rect x="6" y="6" width="4" height="2" fill="#3b5674"/><rect x="10" y="6" width="2" height="2" fill="#5c7e9e"/><rect x="12" y="6" width="2" height="2" fill="#a6cdf0"/><rect x="14" y="6" width="2" height="2" fill="#4a9ee6"/><rect x="0" y="8" width="2" height="2" fill="#4a9ee6"/><rect x="2" y="8" width="2" height="2" fill="#a6cdf0"/><rect x="4" y="8" width="2" height="2" fill="#5c7e9e"/><rect x="6" y="8" width="4" height="2" fill="#3b5674"/><rect x="10" y="8" width="2" height="2" fill="#5c7e9e"/><rect x="12" y="8" width="2" height="2" fill="#a6cdf0"/><rect x="14" y="8" width="2" height="2" fill="#4a9ee6"/><rect x="0" y="10" width="6" height="2" fill="#4a9ee6"/><rect x="6" y="10" width="4" height="2" fill="#5c7e9e"/><rect x="10" y="10" width="6" height="2" fill="#4a9ee6"/><rect x="2" y="12" width="2" height="2" fill="#4a9ee6"/><rect x="4" y="12" width="2" height="2" fill="#a6cdf0"/><rect x="6" y="12" width="4" height="2" fill="#4a9ee6"/><rect x="10" y="12" width="2" height="2" fill="#a6cdf0"/><rect x="12" y="12" width="2" height="2" fill="#4a9ee6"/><rect x="4" y="14" width="8" height="2" fill="#4a9ee6"/></svg>
<svg style="left:685px;top:497px;" width="12" height="26"><rect x="2" y="0" width="8" height="2" fill="#a6cdf0"/><rect x="0" y="2" width="2" height="2" fill="#a6cdf0"/><rect x="2" y="2" width="2" height="2" fill="#e4f2fc"/><rect x="8" y="2" width="2" height="2" fill="#e4f2fc"/><rect x="10" y="2" width="2" height="2" fill="#a6cdf0"/><rect x="0" y="4" width="2" height="2" fill="#a6cdf0"/><rect x="4" y="4" width="4" height="2" fill="#ffd02a"/><rect x="10" y="4" width="2" height="2" fill="#a6cdf0"/><rect x="0" y="6" width="2" height="2" fill="#a6cdf0"/><rect x="4" y="6" width="4" height="2" fill="#ffd02a"/><rect x="10" y="6" width="2" height="2" fill="#a6cdf0"/><rect x="0" y="8" width="2" height="2" fill="#a6cdf0"/><rect x="2" y="8" width="2" height="2" fill="#e4f2fc"/><rect x="4" y="8" width="4" height="2" fill="#ffd02a"/><rect x="10" y="8" width="2" height="2" fill="#a6cdf0"/><rect x="0" y="10" width="2" height="2" fill="#a6cdf0"/><rect x="4" y="10" width="4" height="2" fill="#ffd02a"/><rect x="10" y="10" width="2" height="2" fill="#a6cdf0"/><rect x="0" y="12" width="2" height="2" fill="#a6cdf0"/><rect x="4" y="12" width="4" height="2" fill="#ffd02a"/><rect x="8" y="12" width="2" height="2" fill="#e4f2fc"/><rect x="10" y="12" width="2" height="2" fill="#a6cdf0"/><rect x="0" y="14" width="2" height="2" fill="#a6cdf0"/><rect x="4" y="14" width="4" height="2" fill="#ffd02a"/><rect x="10" y="14" width="2" height="2" fill="#a6cdf0"/><rect x="0" y="16" width="2" height="2" fill="#a6cdf0"/><rect x="4" y="16" width="4" height="2" fill="#5c7e9e"/><rect x="10" y="16" width="2" height="2" fill="#a6cdf0"/><rect x="0" y="18" width="2" height="2" fill="#a6cdf0"/><rect x="2" y="18" width="8" height="2" fill="#5c7e9e"/><rect x="10" y="18" width="2" height="2" fill="#a6cdf0"/><rect x="0" y="20" width="2" height="2" fill="#a6cdf0"/><rect x="2" y="20" width="8" height="2" fill="#5c7e9e"/><rect x="10" y="20" width="2" height="2" fill="#a6cdf0"/><rect x="2" y="22" width="8" height="2" fill="#5c7e9e"/><rect x="4" y="24" width="4" height="2" fill="#5c7e9e"/></svg>
<svg style="left:634px;top:535px;" width="30" height="14"><rect x="0" y="0" width="30" height="2" fill="#6e3622"/><rect x="0" y="2" width="2" height="2" fill="#6e3622"/><rect x="2" y="2" width="2" height="2" fill="#c03c1c"/><rect x="4" y="2" width="2" height="2" fill="#e8621c"/><rect x="6" y="2" width="2" height="2" fill="#c03c1c"/><rect x="8" y="2" width="2" height="2" fill="#e8621c"/><rect x="10" y="2" width="2" height="2" fill="#b8202a"/><rect x="12" y="2" width="2" height="2" fill="#ff8a2a"/><rect x="14" y="2" width="2" height="2" fill="#6e3622"/><rect x="16" y="2" width="2" height="2" fill="#c03c1c"/><rect x="18" y="2" width="2" height="2" fill="#e8621c"/><rect x="20" y="2" width="2" height="2" fill="#c03c1c"/><rect x="22" y="2" width="2" height="2" fill="#e8621c"/><rect x="24" y="2" width="2" height="2" fill="#b8202a"/><rect x="26" y="2" width="2" height="2" fill="#ff8a2a"/><rect x="28" y="2" width="2" height="2" fill="#6e3622"/><rect x="0" y="4" width="2" height="2" fill="#6e3622"/><rect x="2" y="4" width="2" height="2" fill="#b8202a"/><rect x="4" y="4" width="2" height="2" fill="#141824"/><rect x="6" y="4" width="2" height="2" fill="#b8202a"/><rect x="8" y="4" width="2" height="2" fill="#141824"/><rect x="10" y="4" width="2" height="2" fill="#b8202a"/><rect x="12" y="4" width="2" height="2" fill="#141824"/><rect x="14" y="4" width="2" height="2" fill="#6e3622"/><rect x="16" y="4" width="2" height="2" fill="#b8202a"/><rect x="18" y="4" width="2" height="2" fill="#141824"/><rect x="20" y="4" width="2" height="2" fill="#b8202a"/><rect x="22" y="4" width="2" height="2" fill="#141824"/><rect x="24" y="4" width="2" height="2" fill="#b8202a"/><rect x="26" y="4" width="2" height="2" fill="#141824"/><rect x="28" y="4" width="2" height="2" fill="#6e3622"/><rect x="0" y="6" width="2" height="2" fill="#6e3622"/><rect x="2" y="6" width="12" height="2" fill="#c87444"/><rect x="14" y="6" width="2" height="2" fill="#6e3622"/><rect x="16" y="6" width="12" height="2" fill="#c87444"/><rect x="28" y="6" width="2" height="2" fill="#6e3622"/><rect x="0" y="8" width="2" height="2" fill="#6e3622"/><rect x="2" y="8" width="2" height="2" fill="#c03c1c"/><rect x="4" y="8" width="2" height="2" fill="#e8621c"/><rect x="6" y="8" width="2" height="2" fill="#c03c1c"/><rect x="8" y="8" width="2" height="2" fill="#e8621c"/><rect x="10" y="8" width="2" height="2" fill="#b8202a"/><rect x="12" y="8" width="2" height="2" fill="#ff8a2a"/><rect x="14" y="8" width="2" height="2" fill="#6e3622"/><rect x="16" y="8" width="2" height="2" fill="#c03c1c"/><rect x="18" y="8" width="2" height="2" fill="#e8621c"/><rect x="20" y="8" width="2" height="2" fill="#c03c1c"/><rect x="22" y="8" width="2" height="2" fill="#e8621c"/><rect x="24" y="8" width="2" height="2" fill="#b8202a"/><rect x="26" y="8" width="2" height="2" fill="#ff8a2a"/><rect x="28" y="8" width="2" height="2" fill="#6e3622"/><rect x="0" y="10" width="2" height="2" fill="#6e3622"/><rect x="2" y="10" width="2" height="2" fill="#b8202a"/><rect x="4" y="10" width="2" height="2" fill="#141824"/><rect x="6" y="10" width="2" height="2" fill="#b8202a"/><rect x="8" y="10" width="2" height="2" fill="#141824"/><rect x="10" y="10" width="2" height="2" fill="#b8202a"/><rect x="12" y="10" width="2" height="2" fill="#141824"/><rect x="14" y="10" width="2" height="2" fill="#6e3622"/><rect x="16" y="10" width="2" height="2" fill="#b8202a"/><rect x="18" y="10" width="2" height="2" fill="#141824"/><rect x="20" y="10" width="2" height="2" fill="#b8202a"/><rect x="22" y="10" width="2" height="2" fill="#141824"/><rect x="24" y="10" width="2" height="2" fill="#b8202a"/><rect x="26" y="10" width="2" height="2" fill="#141824"/><rect x="28" y="10" width="2" height="2" fill="#6e3622"/><rect x="0" y="12" width="30" height="2" fill="#6e3622"/></svg>
<svg style="left:667px;top:562px;" width="12" height="12"><rect x="4" y="0" width="4" height="2" fill="#ff7a1c"/><rect x="2" y="2" width="8" height="2" fill="#ff7a1c"/><rect x="0" y="4" width="12" height="2" fill="#ff7a1c"/><rect x="0" y="6" width="12" height="2" fill="#ff7a1c"/><rect x="2" y="8" width="8" height="2" fill="#ff7a1c"/><rect x="4" y="10" width="4" height="2" fill="#ff7a1c"/></svg>
<div class="node" style="left:613px;top:598px;"></div>
<div class="badge" style="left:732px;top:605px;"></div>
<div class="tx" style="left:672.5px;top:606.24px;font-size:17.2px;color:#eef2f6;letter-spacing:1.25px;transform:translateX(-50%);">Agriculture</div>
<div class="tx" style="left:745px;top:610.29px;font-size:19.5px;color:#ffffff;font-weight:bold;transform:translateX(-50%);">3</div>
<svg style="left:635px;top:630px;" width="28" height="28"><rect x="0" y="0" width="28" height="2" fill="#e8a070"/><rect x="0" y="2" width="2" height="2" fill="#e8a070"/><rect x="2" y="2" width="24" height="2" fill="#c07850"/><rect x="26" y="2" width="2" height="2" fill="#e8a070"/><rect x="0" y="4" width="2" height="2" fill="#e8a070"/><rect x="2" y="4" width="2" height="2" fill="#c07850"/><rect x="4" y="4" width="2" height="2" fill="#8b5e34"/><rect x="6" y="4" width="2" height="2" fill="#5e3a20"/><rect x="8" y="4" width="10" height="2" fill="#8b5e34"/><rect x="18" y="4" width="2" height="2" fill="#5e3a20"/><rect x="20" y="4" width="6" height="2" fill="#8b5e34"/><rect x="26" y="4" width="2" height="2" fill="#e8a070"/><rect x="0" y="6" width="2" height="2" fill="#e8a070"/><rect x="2" y="6" width="2" height="2" fill="#c07850"/><rect x="4" y="6" width="2" height="2" fill="#5e3a20"/><rect x="6" y="6" width="16" height="2" fill="#8b5e34"/><rect x="22" y="6" width="2" height="2" fill="#5e3a20"/><rect x="24" y="6" width="2" height="2" fill="#8b5e34"/><rect x="26" y="6" width="2" height="2" fill="#e8a070"/><rect x="0" y="8" width="2" height="2" fill="#e8a070"/><rect x="2" y="8" width="2" height="2" fill="#c07850"/><rect x="4" y="8" width="6" height="2" fill="#8b5e34"/><rect x="10" y="8" width="2" height="2" fill="#5e3a20"/><rect x="12" y="8" width="12" height="2" fill="#8b5e34"/><rect x="24" y="8" width="2" height="2" fill="#a87040"/><rect x="26" y="8" width="2" height="2" fill="#e8a070"/><rect x="0" y="10" width="2" height="2" fill="#e8a070"/><rect x="2" y="10" width="2" height="2" fill="#c07850"/><rect x="4" y="10" width="8" height="2" fill="#8b5e34"/><rect x="12" y="10" width="2" height="2" fill="#5e3a20"/><rect x="14" y="10" width="4" height="2" fill="#8b5e34"/><rect x="18" y="10" width="2" height="2" fill="#5e3a20"/><rect x="20" y="10" width="6" height="2" fill="#8b5e34"/><rect x="26" y="10" width="2" height="2" fill="#e8a070"/><rect x="0" y="12" width="2" height="2" fill="#e8a070"/><rect x="2" y="12" width="2" height="2" fill="#c07850"/><rect x="4" y="12" width="2" height="2" fill="#8b5e34"/><rect x="6" y="12" width="2" height="2" fill="#5e3a20"/><rect x="8" y="12" width="8" height="2" fill="#8b5e34"/><rect x="16" y="12" width="2" height="2" fill="#5e3a20"/><rect x="18" y="12" width="6" height="2" fill="#8b5e34"/><rect x="24" y="12" width="2" height="2" fill="#a87040"/><rect x="26" y="12" width="2" height="2" fill="#e8a070"/><rect x="0" y="14" width="2" height="2" fill="#e8a070"/><rect x="2" y="14" width="2" height="2" fill="#c07850"/><rect x="4" y="14" width="16" height="2" fill="#8b5e34"/><rect x="20" y="14" width="2" height="2" fill="#5e3a20"/><rect x="22" y="14" width="4" height="2" fill="#8b5e34"/><rect x="26" y="14" width="2" height="2" fill="#e8a070"/><rect x="0" y="16" width="2" height="2" fill="#e8a070"/><rect x="2" y="16" width="2" height="2" fill="#c07850"/><rect x="4" y="16" width="2" height="2" fill="#8b5e34"/><rect x="6" y="16" width="2" height="2" fill="#5e3a20"/><rect x="8" y="16" width="18" height="2" fill="#8b5e34"/><rect x="26" y="16" width="2" height="2" fill="#e8a070"/><rect x="0" y="18" width="2" height="2" fill="#e8a070"/><rect x="2" y="18" width="2" height="2" fill="#c07850"/><rect x="4" y="18" width="8" height="2" fill="#8b5e34"/><rect x="12" y="18" width="4" height="2" fill="#5e3a20"/><rect x="16" y="18" width="6" height="2" fill="#8b5e34"/><rect x="22" y="18" width="2" height="2" fill="#5e3a20"/><rect x="24" y="18" width="2" height="2" fill="#8b5e34"/><rect x="26" y="18" width="2" height="2" fill="#e8a070"/><rect x="0" y="20" width="2" height="2" fill="#e8a070"/><rect x="2" y="20" width="2" height="2" fill="#c07850"/><rect x="4" y="20" width="22" height="2" fill="#8b5e34"/><rect x="26" y="20" width="2" height="2" fill="#e8a070"/><rect x="0" y="22" width="2" height="2" fill="#e8a070"/><rect x="2" y="22" width="2" height="2" fill="#c07850"/><rect x="4" y="22" width="2" height="2" fill="#8b5e34"/><rect x="6" y="22" width="2" height="2" fill="#5e3a20"/><rect x="8" y="22" width="8" height="2" fill="#8b5e34"/><rect x="16" y="22" width="2" height="2" fill="#5e3a20"/><rect x="18" y="22" width="6" height="2" fill="#8b5e34"/><rect x="24" y="22" width="2" height="2" fill="#a87040"/><rect x="26" y="22" width="2" height="2" fill="#e8a070"/><rect x="0" y="24" width="4" height="2" fill="#e8a070"/><rect x="4" y="24" width="2" height="2" fill="#a87040"/><rect x="6" y="24" width="22" height="2" fill="#e8a070"/><rect x="0" y="26" width="28" height="2" fill="#e8a070"/></svg>
<svg style="left:678px;top:632px;" width="26" height="24"><rect x="4" y="0" width="2" height="2" fill="#a85a36"/><rect x="2" y="2" width="22" height="2" fill="#a85a36"/><rect x="0" y="4" width="2" height="2" fill="#c87444"/><rect x="2" y="4" width="2" height="2" fill="#a85a36"/><rect x="4" y="4" width="2" height="2" fill="#c87444"/><rect x="6" y="4" width="2" height="2" fill="#a85a36"/><rect x="8" y="4" width="2" height="2" fill="#d88c5c"/><rect x="10" y="4" width="2" height="2" fill="#a85a36"/><rect x="12" y="4" width="2" height="2" fill="#d88c5c"/><rect x="14" y="4" width="8" height="2" fill="#a85a36"/><rect x="22" y="4" width="2" height="2" fill="#c87444"/><rect x="2" y="6" width="2" height="2" fill="#a85a36"/><rect x="4" y="6" width="2" height="2" fill="#d88c5c"/><rect x="12" y="6" width="2" height="2" fill="#e4f2fc"/><rect x="2" y="8" width="4" height="2" fill="#a85a36"/><rect x="12" y="8" width="2" height="2" fill="#e4f2fc"/><rect x="2" y="10" width="2" height="2" fill="#d88c5c"/><rect x="4" y="10" width="2" height="2" fill="#a85a36"/><rect x="12" y="10" width="2" height="2" fill="#e4f2fc"/><rect x="2" y="12" width="4" height="2" fill="#a85a36"/><rect x="12" y="12" width="2" height="2" fill="#e4f2fc"/><rect x="2" y="14" width="4" height="2" fill="#a85a36"/><rect x="12" y="14" width="2" height="2" fill="#e4f2fc"/><rect x="2" y="16" width="4" height="2" fill="#a85a36"/><rect x="10" y="16" width="6" height="2" fill="#e4f2fc"/><rect x="2" y="18" width="4" height="2" fill="#a85a36"/><rect x="12" y="18" width="2" height="2" fill="#e4f2fc"/><rect x="0" y="20" width="10" height="2" fill="#a85a36"/><rect x="0" y="22" width="2" height="2" fill="#c87444"/><rect x="2" y="22" width="6" height="2" fill="#a85a36"/><rect x="8" y="22" width="2" height="2" fill="#c87444"/></svg>
<div class="node" style="left:613px;top:860px;"></div>
<div class="badge" style="left:732px;top:867px;"></div>
<div class="tx" style="left:672.5px;top:868.05px;font-size:16.6px;color:#eef2f6;letter-spacing:0.45px;transform:translateX(-50%);">Basic Cooking</div>
<div class="tx" style="left:745px;top:872.29px;font-size:19.5px;color:#ffffff;font-weight:bold;transform:translateX(-50%);">3</div>
<svg style="left:636px;top:893px;" width="26" height="26"><rect x="8" y="0" width="10" height="2" fill="#141824"/><rect x="4" y="2" width="4" height="2" fill="#141824"/><rect x="8" y="2" width="10" height="2" fill="#9a9a9e"/><rect x="18" y="2" width="4" height="2" fill="#141824"/><rect x="2" y="4" width="2" height="2" fill="#141824"/><rect x="4" y="4" width="4" height="2" fill="#9a9a9e"/><rect x="8" y="4" width="10" height="2" fill="#5a5a60"/><rect x="18" y="4" width="4" height="2" fill="#9a9a9e"/><rect x="22" y="4" width="2" height="2" fill="#141824"/><rect x="2" y="6" width="2" height="2" fill="#141824"/><rect x="4" y="6" width="2" height="2" fill="#9a9a9e"/><rect x="6" y="6" width="10" height="2" fill="#5a5a60"/><rect x="16" y="6" width="4" height="2" fill="#d88c5c"/><rect x="20" y="6" width="2" height="2" fill="#9a9a9e"/><rect x="22" y="6" width="2" height="2" fill="#141824"/><rect x="0" y="8" width="2" height="2" fill="#141824"/><rect x="2" y="8" width="2" height="2" fill="#9a9a9e"/><rect x="4" y="8" width="10" height="2" fill="#5a5a60"/><rect x="14" y="8" width="4" height="2" fill="#d88c5c"/><rect x="18" y="8" width="4" height="2" fill="#5a5a60"/><rect x="22" y="8" width="2" height="2" fill="#9a9a9e"/><rect x="24" y="8" width="2" height="2" fill="#141824"/><rect x="0" y="10" width="2" height="2" fill="#141824"/><rect x="2" y="10" width="2" height="2" fill="#9a9a9e"/><rect x="4" y="10" width="8" height="2" fill="#5a5a60"/><rect x="12" y="10" width="4" height="2" fill="#d88c5c"/><rect x="16" y="10" width="6" height="2" fill="#5a5a60"/><rect x="22" y="10" width="2" height="2" fill="#9a9a9e"/><rect x="24" y="10" width="2" height="2" fill="#141824"/><rect x="0" y="12" width="2" height="2" fill="#141824"/><rect x="2" y="12" width="2" height="2" fill="#9a9a9e"/><rect x="4" y="12" width="6" height="2" fill="#5a5a60"/><rect x="10" y="12" width="4" height="2" fill="#d88c5c"/><rect x="14" y="12" width="8" height="2" fill="#5a5a60"/><rect x="22" y="12" width="2" height="2" fill="#9a9a9e"/><rect x="24" y="12" width="2" height="2" fill="#141824"/><rect x="0" y="14" width="2" height="2" fill="#141824"/><rect x="2" y="14" width="2" height="2" fill="#9a9a9e"/><rect x="4" y="14" width="4" height="2" fill="#5a5a60"/><rect x="8" y="14" width="4" height="2" fill="#d88c5c"/><rect x="12" y="14" width="10" height="2" fill="#5a5a60"/><rect x="22" y="14" width="2" height="2" fill="#9a9a9e"/><rect x="24" y="14" width="2" height="2" fill="#141824"/><rect x="0" y="16" width="2" height="2" fill="#141824"/><rect x="2" y="16" width="2" height="2" fill="#9a9a9e"/><rect x="4" y="16" width="4" height="2" fill="#5a5a60"/><rect x="8" y="16" width="2" height="2" fill="#7c7c80"/><rect x="10" y="16" width="12" height="2" fill="#5a5a60"/><rect x="22" y="16" width="2" height="2" fill="#9a9a9e"/><rect x="24" y="16" width="2" height="2" fill="#141824"/><rect x="2" y="18" width="2" height="2" fill="#141824"/><rect x="4" y="18" width="2" height="2" fill="#9a9a9e"/><rect x="6" y="18" width="14" height="2" fill="#5a5a60"/><rect x="20" y="18" width="2" height="2" fill="#9a9a9e"/><rect x="22" y="18" width="2" height="2" fill="#141824"/><rect x="2" y="20" width="2" height="2" fill="#141824"/><rect x="4" y="20" width="4" height="2" fill="#9a9a9e"/><rect x="8" y="20" width="10" height="2" fill="#5a5a60"/><rect x="18" y="20" width="4" height="2" fill="#9a9a9e"/><rect x="22" y="20" width="2" height="2" fill="#141824"/><rect x="4" y="22" width="4" height="2" fill="#141824"/><rect x="8" y="22" width="10" height="2" fill="#9a9a9e"/><rect x="18" y="22" width="4" height="2" fill="#141824"/><rect x="8" y="24" width="10" height="2" fill="#141824"/></svg>
<svg style="left:683px;top:898px;" width="16" height="14"><rect x="6" y="0" width="4" height="2" fill="#b83a1a"/><rect x="2" y="2" width="2" height="2" fill="#b83a1a"/><rect x="4" y="2" width="8" height="2" fill="#e8743c"/><rect x="12" y="2" width="2" height="2" fill="#b83a1a"/><rect x="0" y="4" width="2" height="2" fill="#b83a1a"/><rect x="2" y="4" width="2" height="2" fill="#e8743c"/><rect x="4" y="4" width="8" height="2" fill="#d04a20"/><rect x="12" y="4" width="2" height="2" fill="#e8743c"/><rect x="14" y="4" width="2" height="2" fill="#b83a1a"/><rect x="0" y="6" width="2" height="2" fill="#b83a1a"/><rect x="2" y="6" width="12" height="2" fill="#d04a20"/><rect x="14" y="6" width="2" height="2" fill="#b83a1a"/><rect x="0" y="8" width="2" height="2" fill="#8a2a14"/><rect x="2" y="8" width="12" height="2" fill="#d04a20"/><rect x="14" y="8" width="2" height="2" fill="#8a2a14"/><rect x="2" y="10" width="2" height="2" fill="#8a2a14"/><rect x="4" y="10" width="8" height="2" fill="#d04a20"/><rect x="12" y="10" width="2" height="2" fill="#8a2a14"/><rect x="4" y="12" width="8" height="2" fill="#8a2a14"/></svg>
<svg style="left:634px;top:923px;" width="30" height="30"><rect x="2" y="0" width="26" height="2" fill="#a66450"/><rect x="0" y="2" width="2" height="2" fill="#a66450"/><rect x="2" y="2" width="26" height="2" fill="#8c4e3e"/><rect x="28" y="2" width="2" height="2" fill="#a66450"/><rect x="0" y="4" width="2" height="2" fill="#a66450"/><rect x="2" y="4" width="26" height="2" fill="#8c4e3e"/><rect x="28" y="4" width="2" height="2" fill="#a66450"/><rect x="0" y="6" width="2" height="2" fill="#a66450"/><rect x="2" y="6" width="26" height="2" fill="#8c4e3e"/><rect x="28" y="6" width="2" height="2" fill="#a66450"/><rect x="0" y="8" width="2" height="2" fill="#a66450"/><rect x="2" y="8" width="10" height="2" fill="#8c4e3e"/><rect x="12" y="8" width="6" height="2" fill="#f4f0ee"/><rect x="18" y="8" width="10" height="2" fill="#8c4e3e"/><rect x="28" y="8" width="2" height="2" fill="#a66450"/><rect x="0" y="10" width="2" height="2" fill="#a66450"/><rect x="2" y="10" width="8" height="2" fill="#8c4e3e"/><rect x="10" y="10" width="2" height="2" fill="#f4f0ee"/><rect x="12" y="10" width="6" height="2" fill="#8c4e3e"/><rect x="18" y="10" width="2" height="2" fill="#f4f0ee"/><rect x="20" y="10" width="8" height="2" fill="#8c4e3e"/><rect x="28" y="10" width="2" height="2" fill="#a66450"/><rect x="0" y="12" width="2" height="2" fill="#a66450"/><rect x="2" y="12" width="8" height="2" fill="#8c4e3e"/><rect x="10" y="12" width="2" height="2" fill="#f4f0ee"/><rect x="12" y="12" width="2" height="2" fill="#8c4e3e"/><rect x="14" y="12" width="2" height="2" fill="#6e3626"/><rect x="16" y="12" width="2" height="2" fill="#8c4e3e"/><rect x="18" y="12" width="2" height="2" fill="#f4f0ee"/><rect x="20" y="12" width="8" height="2" fill="#8c4e3e"/><rect x="28" y="12" width="2" height="2" fill="#a66450"/><rect x="0" y="14" width="2" height="2" fill="#a66450"/><rect x="2" y="14" width="8" height="2" fill="#8c4e3e"/><rect x="10" y="14" width="2" height="2" fill="#f4f0ee"/><rect x="12" y="14" width="6" height="2" fill="#8c4e3e"/><rect x="18" y="14" width="2" height="2" fill="#f4f0ee"/><rect x="20" y="14" width="8" height="2" fill="#8c4e3e"/><rect x="28" y="14" width="2" height="2" fill="#a66450"/><rect x="0" y="16" width="2" height="2" fill="#a66450"/><rect x="2" y="16" width="10" height="2" fill="#8c4e3e"/><rect x="12" y="16" width="6" height="2" fill="#f4f0ee"/><rect x="18" y="16" width="10" height="2" fill="#8c4e3e"/><rect x="28" y="16" width="2" height="2" fill="#a66450"/><rect x="0" y="18" width="2" height="2" fill="#a66450"/><rect x="2" y="18" width="26" height="2" fill="#8c4e3e"/><rect x="28" y="18" width="2" height="2" fill="#a66450"/><rect x="0" y="20" width="2" height="2" fill="#a66450"/><rect x="2" y="20" width="26" height="2" fill="#8c4e3e"/><rect x="28" y="20" width="2" height="2" fill="#a66450"/><rect x="0" y="22" width="2" height="2" fill="#a66450"/><rect x="2" y="22" width="26" height="2" fill="#8c4e3e"/><rect x="28" y="22" width="2" height="2" fill="#a66450"/><rect x="0" y="24" width="2" height="2" fill="#a66450"/><rect x="2" y="24" width="26" height="2" fill="#8c4e3e"/><rect x="28" y="24" width="2" height="2" fill="#a66450"/><rect x="0" y="26" width="2" height="2" fill="#a66450"/><rect x="2" y="26" width="26" height="2" fill="#8c4e3e"/><rect x="28" y="26" width="2" height="2" fill="#a66450"/><rect x="2" y="28" width="26" height="2" fill="#a66450"/></svg>
<div class="node" style="left:864px;top:330px;"></div>
<div class="badge" style="left:983px;top:337px;"></div>
<div class="tx" style="left:923.5px;top:338.39px;font-size:17.5px;color:#eef2f6;letter-spacing:1.4px;transform:translateX(-50%);">Purification</div>
<div class="tx" style="left:996px;top:342.29px;font-size:19.5px;color:#ffffff;font-weight:bold;transform:translateX(-50%);">1</div>
<svg style="left:885px;top:370px;" width="30" height="9"><rect x="7" y="0" width="1" height="1" fill="#e4f2fc"/><rect x="12" y="0" width="1" height="1" fill="#e4f2fc"/><rect x="17" y="0" width="1" height="1" fill="#e4f2fc"/><rect x="22" y="0" width="1" height="1" fill="#e4f2fc"/><rect x="5" y="1" width="20" height="1" fill="#a6cdf0"/><rect x="3" y="2" width="3" height="1" fill="#a6cdf0"/><rect x="6" y="2" width="18" height="1" fill="#e4f2fc"/><rect x="24" y="2" width="3" height="1" fill="#a6cdf0"/><rect x="1" y="3" width="3" height="1" fill="#a6cdf0"/><rect x="4" y="3" width="4" height="1" fill="#e4f2fc"/><rect x="8" y="3" width="1" height="1" fill="#2a3e58"/><rect x="9" y="3" width="4" height="1" fill="#e4f2fc"/><rect x="13" y="3" width="1" height="1" fill="#2a3e58"/><rect x="14" y="3" width="4" height="1" fill="#e4f2fc"/><rect x="18" y="3" width="1" height="1" fill="#2a3e58"/><rect x="19" y="3" width="4" height="1" fill="#e4f2fc"/><rect x="23" y="3" width="1" height="1" fill="#2a3e58"/><rect x="24" y="3" width="2" height="1" fill="#e4f2fc"/><rect x="26" y="3" width="3" height="1" fill="#a6cdf0"/><rect x="0" y="4" width="2" height="1" fill="#a6cdf0"/><rect x="2" y="4" width="5" height="1" fill="#e4f2fc"/><rect x="7" y="4" width="3" height="1" fill="#2a3e58"/><rect x="10" y="4" width="2" height="1" fill="#e4f2fc"/><rect x="12" y="4" width="3" height="1" fill="#2a3e58"/><rect x="15" y="4" width="2" height="1" fill="#e4f2fc"/><rect x="17" y="4" width="3" height="1" fill="#2a3e58"/><rect x="20" y="4" width="2" height="1" fill="#e4f2fc"/><rect x="22" y="4" width="3" height="1" fill="#2a3e58"/><rect x="25" y="4" width="3" height="1" fill="#e4f2fc"/><rect x="28" y="4" width="2" height="1" fill="#a6cdf0"/><rect x="1" y="5" width="3" height="1" fill="#a6cdf0"/><rect x="4" y="5" width="4" height="1" fill="#e4f2fc"/><rect x="8" y="5" width="1" height="1" fill="#2a3e58"/><rect x="9" y="5" width="4" height="1" fill="#e4f2fc"/><rect x="13" y="5" width="1" height="1" fill="#2a3e58"/><rect x="14" y="5" width="4" height="1" fill="#e4f2fc"/><rect x="18" y="5" width="1" height="1" fill="#2a3e58"/><rect x="19" y="5" width="4" height="1" fill="#e4f2fc"/><rect x="23" y="5" width="1" height="1" fill="#2a3e58"/><rect x="24" y="5" width="2" height="1" fill="#e4f2fc"/><rect x="26" y="5" width="3" height="1" fill="#a6cdf0"/><rect x="3" y="6" width="3" height="1" fill="#a6cdf0"/><rect x="6" y="6" width="18" height="1" fill="#e4f2fc"/><rect x="24" y="6" width="3" height="1" fill="#a6cdf0"/><rect x="5" y="7" width="20" height="1" fill="#a6cdf0"/><rect x="7" y="8" width="1" height="1" fill="#e4f2fc"/><rect x="12" y="8" width="1" height="1" fill="#e4f2fc"/><rect x="17" y="8" width="1" height="1" fill="#e4f2fc"/><rect x="22" y="8" width="1" height="1" fill="#e4f2fc"/></svg>
<svg style="left:928px;top:364px;" width="28" height="22"><rect x="2" y="0" width="2" height="2" fill="#141824"/><rect x="24" y="0" width="2" height="2" fill="#141824"/><rect x="0" y="2" width="2" height="2" fill="#141824"/><rect x="2" y="2" width="2" height="2" fill="#5c7e9e"/><rect x="4" y="2" width="20" height="2" fill="#141824"/><rect x="24" y="2" width="2" height="2" fill="#5c7e9e"/><rect x="26" y="2" width="2" height="2" fill="#141824"/><rect x="0" y="4" width="2" height="2" fill="#e4f2fc"/><rect x="2" y="4" width="2" height="2" fill="#5c7e9e"/><rect x="4" y="4" width="2" height="2" fill="#86aac8"/><rect x="6" y="4" width="4" height="2" fill="#2a3e58"/><rect x="10" y="4" width="2" height="2" fill="#a6cdf0"/><rect x="12" y="4" width="4" height="2" fill="#e4f2fc"/><rect x="16" y="4" width="6" height="2" fill="#a6cdf0"/><rect x="22" y="4" width="2" height="2" fill="#86aac8"/><rect x="24" y="4" width="2" height="2" fill="#5c7e9e"/><rect x="26" y="4" width="2" height="2" fill="#e4f2fc"/><rect x="2" y="6" width="2" height="2" fill="#5c7e9e"/><rect x="4" y="6" width="2" height="2" fill="#86aac8"/><rect x="6" y="6" width="2" height="2" fill="#2a3e58"/><rect x="8" y="6" width="4" height="2" fill="#a6cdf0"/><rect x="12" y="6" width="2" height="2" fill="#e4f2fc"/><rect x="14" y="6" width="4" height="2" fill="#a6cdf0"/><rect x="18" y="6" width="2" height="2" fill="#2a3e58"/><rect x="20" y="6" width="2" height="2" fill="#a6cdf0"/><rect x="22" y="6" width="2" height="2" fill="#86aac8"/><rect x="24" y="6" width="2" height="2" fill="#5c7e9e"/><rect x="2" y="8" width="2" height="2" fill="#5c7e9e"/><rect x="4" y="8" width="2" height="2" fill="#86aac8"/><rect x="6" y="8" width="10" height="2" fill="#a6cdf0"/><rect x="16" y="8" width="4" height="2" fill="#2a3e58"/><rect x="20" y="8" width="2" height="2" fill="#a6cdf0"/><rect x="22" y="8" width="2" height="2" fill="#86aac8"/><rect x="24" y="8" width="2" height="2" fill="#5c7e9e"/><rect x="2" y="10" width="2" height="2" fill="#5c7e9e"/><rect x="4" y="10" width="2" height="2" fill="#86aac8"/><rect x="6" y="10" width="2" height="2" fill="#2a3e58"/><rect x="8" y="10" width="10" height="2" fill="#a6cdf0"/><rect x="18" y="10" width="2" height="2" fill="#2a3e58"/><rect x="20" y="10" width="2" height="2" fill="#a6cdf0"/><rect x="22" y="10" width="2" height="2" fill="#86aac8"/><rect x="24" y="10" width="2" height="2" fill="#5c7e9e"/><rect x="2" y="12" width="2" height="2" fill="#5c7e9e"/><rect x="4" y="12" width="2" height="2" fill="#86aac8"/><rect x="6" y="12" width="12" height="2" fill="#a6cdf0"/><rect x="18" y="12" width="4" height="2" fill="#2a3e58"/><rect x="22" y="12" width="2" height="2" fill="#86aac8"/><rect x="24" y="12" width="2" height="2" fill="#5c7e9e"/><rect x="2" y="14" width="2" height="2" fill="#5c7e9e"/><rect x="4" y="14" width="2" height="2" fill="#86aac8"/><rect x="6" y="14" width="2" height="2" fill="#a6cdf0"/><rect x="8" y="14" width="2" height="2" fill="#e4f2fc"/><rect x="10" y="14" width="12" height="2" fill="#a6cdf0"/><rect x="22" y="14" width="2" height="2" fill="#86aac8"/><rect x="24" y="14" width="2" height="2" fill="#5c7e9e"/><rect x="0" y="16" width="2" height="2" fill="#e4f2fc"/><rect x="2" y="16" width="2" height="2" fill="#5c7e9e"/><rect x="4" y="16" width="2" height="2" fill="#86aac8"/><rect x="6" y="16" width="4" height="2" fill="#e4f2fc"/><rect x="10" y="16" width="6" height="2" fill="#a6cdf0"/><rect x="16" y="16" width="4" height="2" fill="#2a3e58"/><rect x="20" y="16" width="2" height="2" fill="#a6cdf0"/><rect x="22" y="16" width="2" height="2" fill="#86aac8"/><rect x="24" y="16" width="2" height="2" fill="#5c7e9e"/><rect x="26" y="16" width="2" height="2" fill="#e4f2fc"/><rect x="0" y="18" width="2" height="2" fill="#141824"/><rect x="2" y="18" width="2" height="2" fill="#5c7e9e"/><rect x="4" y="18" width="20" height="2" fill="#141824"/><rect x="24" y="18" width="2" height="2" fill="#5c7e9e"/><rect x="26" y="18" width="2" height="2" fill="#141824"/><rect x="2" y="20" width="2" height="2" fill="#141824"/><rect x="24" y="20" width="2" height="2" fill="#141824"/></svg>
<svg style="left:888px;top:394px;" width="24" height="26"><rect x="2" y="0" width="4" height="2" fill="#e4e4e6"/><rect x="0" y="2" width="4" height="2" fill="#e4e4e6"/><rect x="4" y="2" width="4" height="2" fill="#b4b4b8"/><rect x="0" y="4" width="4" height="2" fill="#e4e4e6"/><rect x="4" y="4" width="4" height="2" fill="#b4b4b8"/><rect x="0" y="6" width="4" height="2" fill="#e4e4e6"/><rect x="4" y="6" width="4" height="2" fill="#b4b4b8"/><rect x="0" y="8" width="4" height="2" fill="#e4e4e6"/><rect x="4" y="8" width="4" height="2" fill="#b4b4b8"/><rect x="0" y="10" width="4" height="2" fill="#e4e4e6"/><rect x="4" y="10" width="4" height="2" fill="#b4b4b8"/><rect x="0" y="12" width="4" height="2" fill="#e4e4e6"/><rect x="4" y="12" width="4" height="2" fill="#b4b4b8"/><rect x="8" y="12" width="16" height="2" fill="#e4e4e6"/><rect x="0" y="14" width="4" height="2" fill="#e4e4e6"/><rect x="4" y="14" width="20" height="2" fill="#b4b4b8"/><rect x="0" y="16" width="6" height="2" fill="#e4e4e6"/><rect x="6" y="16" width="16" height="2" fill="#b4b4b8"/><rect x="2" y="18" width="4" height="2" fill="#e4e4e6"/><rect x="6" y="18" width="14" height="2" fill="#b4b4b8"/><rect x="4" y="20" width="2" height="2" fill="#e4e4e6"/><rect x="6" y="20" width="12" height="2" fill="#b4b4b8"/><rect x="4" y="22" width="12" height="2" fill="#b4b4b8"/><rect x="4" y="24" width="12" height="2" fill="#e4e4e6"/></svg>
<svg style="left:918px;top:428px;" width="12" height="12"><rect x="4" y="0" width="4" height="2" fill="#ff7a1c"/><rect x="2" y="2" width="8" height="2" fill="#ff7a1c"/><rect x="0" y="4" width="12" height="2" fill="#ff7a1c"/><rect x="0" y="6" width="12" height="2" fill="#ff7a1c"/><rect x="2" y="8" width="8" height="2" fill="#ff7a1c"/><rect x="4" y="10" width="4" height="2" fill="#ff7a1c"/></svg>
<div class="node" style="left:864px;top:598px;"></div>
<div class="badge" style="left:983px;top:605px;"></div>
<div class="tx" style="left:923.5px;top:606.43px;font-size:15.8px;color:#eef2f6;letter-spacing:0.35px;transform:translateX(-50%);">High Production</div>
<div class="tx" style="left:996px;top:610.29px;font-size:19.5px;color:#ffffff;font-weight:bold;transform:translateX(-50%);">4</div>
<svg style="left:893px;top:630px;" width="14" height="22"><rect x="6" y="0" width="2" height="2" fill="#e4f2fc"/><rect x="4" y="2" width="2" height="2" fill="#e4f2fc"/><rect x="6" y="2" width="2" height="2" fill="#a6cdf0"/><rect x="8" y="2" width="2" height="2" fill="#e4f2fc"/><rect x="0" y="4" width="2" height="2" fill="#141824"/><rect x="2" y="4" width="2" height="2" fill="#e4f2fc"/><rect x="4" y="4" width="6" height="2" fill="#a6cdf0"/><rect x="10" y="4" width="2" height="2" fill="#e4f2fc"/><rect x="12" y="4" width="2" height="2" fill="#141824"/><rect x="0" y="6" width="2" height="2" fill="#e4f2fc"/><rect x="2" y="6" width="2" height="2" fill="#141824"/><rect x="4" y="6" width="2" height="2" fill="#e4f2fc"/><rect x="6" y="6" width="2" height="2" fill="#a6cdf0"/><rect x="8" y="6" width="2" height="2" fill="#e4f2fc"/><rect x="10" y="6" width="2" height="2" fill="#141824"/><rect x="12" y="6" width="2" height="2" fill="#e4f2fc"/><rect x="0" y="8" width="2" height="2" fill="#e4f2fc"/><rect x="4" y="8" width="2" height="2" fill="#e4f2fc"/><rect x="6" y="8" width="2" height="2" fill="#a6cdf0"/><rect x="8" y="8" width="2" height="2" fill="#e4f2fc"/><rect x="12" y="8" width="2" height="2" fill="#e4f2fc"/><rect x="0" y="10" width="2" height="2" fill="#141824"/><rect x="2" y="10" width="2" height="2" fill="#e4f2fc"/><rect x="6" y="10" width="2" height="2" fill="#a6cdf0"/><rect x="10" y="10" width="2" height="2" fill="#e4f2fc"/><rect x="12" y="10" width="2" height="2" fill="#141824"/><rect x="6" y="12" width="2" height="2" fill="#a6cdf0"/><rect x="6" y="14" width="2" height="2" fill="#86aac8"/><rect x="6" y="16" width="2" height="2" fill="#86aac8"/><rect x="6" y="18" width="2" height="2" fill="#a6cdf0"/><rect x="6" y="20" width="2" height="2" fill="#86aac8"/></svg>
<svg style="left:930px;top:632px;" width="24" height="22"><rect x="8" y="0" width="8" height="2" fill="#b8202a"/><rect x="6" y="2" width="12" height="2" fill="#b8202a"/><rect x="0" y="4" width="2" height="2" fill="#e4f2fc"/><rect x="2" y="4" width="2" height="2" fill="#a6cdf0"/><rect x="6" y="4" width="12" height="2" fill="#b8202a"/><rect x="20" y="4" width="2" height="2" fill="#a6cdf0"/><rect x="22" y="4" width="2" height="2" fill="#e4f2fc"/><rect x="2" y="6" width="4" height="2" fill="#a6cdf0"/><rect x="6" y="6" width="2" height="2" fill="#e4f2fc"/><rect x="8" y="6" width="8" height="2" fill="#b8202a"/><rect x="16" y="6" width="2" height="2" fill="#e4f2fc"/><rect x="18" y="6" width="4" height="2" fill="#a6cdf0"/><rect x="4" y="8" width="16" height="2" fill="#a6cdf0"/><rect x="8" y="10" width="8" height="2" fill="#a6cdf0"/><rect x="8" y="12" width="2" height="2" fill="#86aac8"/><rect x="10" y="12" width="4" height="2" fill="#a6cdf0"/><rect x="14" y="12" width="2" height="2" fill="#86aac8"/><rect x="8" y="14" width="2" height="2" fill="#86aac8"/><rect x="10" y="14" width="4" height="2" fill="#a6cdf0"/><rect x="14" y="14" width="2" height="2" fill="#86aac8"/><rect x="10" y="16" width="4" height="2" fill="#86aac8"/><rect x="10" y="18" width="4" height="2" fill="#86aac8"/><rect x="12" y="20" width="2" height="2" fill="#86aac8"/></svg>
<svg style="left:886px;top:662px;" width="28" height="28"><rect x="2" y="0" width="2" height="2" fill="#a85a36"/><rect x="4" y="0" width="2" height="2" fill="#d88c5c"/><rect x="6" y="0" width="4" height="2" fill="#c87444"/><rect x="10" y="0" width="6" height="2" fill="#a85a36"/><rect x="16" y="0" width="2" height="2" fill="#c87444"/><rect x="18" y="0" width="2" height="2" fill="#a85a36"/><rect x="20" y="0" width="2" height="2" fill="#c87444"/><rect x="22" y="0" width="4" height="2" fill="#a85a36"/><rect x="0" y="2" width="2" height="2" fill="#a85a36"/><rect x="2" y="2" width="8" height="2" fill="#3c9a3c"/><rect x="10" y="2" width="2" height="2" fill="#a0f07a"/><rect x="12" y="2" width="10" height="2" fill="#3c9a3c"/><rect x="22" y="2" width="4" height="2" fill="#a0f07a"/><rect x="26" y="2" width="2" height="2" fill="#c87444"/><rect x="0" y="4" width="2" height="2" fill="#a85a36"/><rect x="2" y="4" width="2" height="2" fill="#3c9a3c"/><rect x="4" y="4" width="2" height="2" fill="#a0f07a"/><rect x="6" y="4" width="20" height="2" fill="#3c9a3c"/><rect x="26" y="4" width="2" height="2" fill="#a85a36"/><rect x="0" y="6" width="2" height="2" fill="#a85a36"/><rect x="2" y="6" width="8" height="2" fill="#3c9a3c"/><rect x="10" y="6" width="2" height="2" fill="#2e7a36"/><rect x="12" y="6" width="10" height="2" fill="#3c9a3c"/><rect x="22" y="6" width="2" height="2" fill="#a0f07a"/><rect x="24" y="6" width="2" height="2" fill="#3c9a3c"/><rect x="26" y="6" width="2" height="2" fill="#a85a36"/><rect x="0" y="8" width="2" height="2" fill="#c87444"/><rect x="2" y="8" width="2" height="2" fill="#a0f07a"/><rect x="4" y="8" width="8" height="2" fill="#3c9a3c"/><rect x="12" y="8" width="4" height="2" fill="#2e7a36"/><rect x="16" y="8" width="10" height="2" fill="#3c9a3c"/><rect x="26" y="8" width="2" height="2" fill="#c87444"/><rect x="0" y="10" width="2" height="2" fill="#a85a36"/><rect x="2" y="10" width="6" height="2" fill="#3c9a3c"/><rect x="8" y="10" width="2" height="2" fill="#2e7a36"/><rect x="10" y="10" width="10" height="2" fill="#3c9a3c"/><rect x="20" y="10" width="2" height="2" fill="#a0f07a"/><rect x="22" y="10" width="4" height="2" fill="#3c9a3c"/><rect x="26" y="10" width="2" height="2" fill="#a85a36"/><rect x="0" y="12" width="2" height="2" fill="#a85a36"/><rect x="2" y="12" width="4" height="2" fill="#a0f07a"/><rect x="6" y="12" width="8" height="2" fill="#3c9a3c"/><rect x="14" y="12" width="4" height="2" fill="#2e7a36"/><rect x="18" y="12" width="8" height="2" fill="#3c9a3c"/><rect x="26" y="12" width="2" height="2" fill="#c87444"/><rect x="0" y="14" width="2" height="2" fill="#a85a36"/><rect x="2" y="14" width="24" height="2" fill="#3c9a3c"/><rect x="26" y="14" width="2" height="2" fill="#a85a36"/><rect x="0" y="16" width="2" height="2" fill="#a85a36"/><rect x="2" y="16" width="4" height="2" fill="#3c9a3c"/><rect x="6" y="16" width="2" height="2" fill="#2e7a36"/><rect x="8" y="16" width="18" height="2" fill="#3c9a3c"/><rect x="26" y="16" width="2" height="2" fill="#a85a36"/><rect x="0" y="18" width="2" height="2" fill="#a85a36"/><rect x="2" y="18" width="16" height="2" fill="#3c9a3c"/><rect x="18" y="18" width="2" height="2" fill="#2e7a36"/><rect x="20" y="18" width="6" height="2" fill="#3c9a3c"/><rect x="26" y="18" width="2" height="2" fill="#a85a36"/><rect x="0" y="20" width="2" height="2" fill="#a85a36"/><rect x="2" y="20" width="6" height="2" fill="#86aac8"/><rect x="8" y="20" width="4" height="2" fill="#3c9a3c"/><rect x="12" y="20" width="6" height="2" fill="#86aac8"/><rect x="18" y="20" width="4" height="2" fill="#3c9a3c"/><rect x="22" y="20" width="4" height="2" fill="#86aac8"/><rect x="26" y="20" width="2" height="2" fill="#a85a36"/><rect x="0" y="22" width="2" height="2" fill="#a85a36"/><rect x="2" y="22" width="2" height="2" fill="#86aac8"/><rect x="4" y="22" width="4" height="2" fill="#a6cdf0"/><rect x="8" y="22" width="6" height="2" fill="#86aac8"/><rect x="14" y="22" width="4" height="2" fill="#a6cdf0"/><rect x="18" y="22" width="4" height="2" fill="#86aac8"/><rect x="22" y="22" width="4" height="2" fill="#a6cdf0"/><rect x="26" y="22" width="2" height="2" fill="#a85a36"/><rect x="0" y="24" width="2" height="2" fill="#c87444"/><rect x="2" y="24" width="2" height="2" fill="#a85a36"/><rect x="4" y="24" width="4" height="2" fill="#86aac8"/><rect x="8" y="24" width="2" height="2" fill="#c87444"/><rect x="10" y="24" width="2" height="2" fill="#a85a36"/><rect x="12" y="24" width="4" height="2" fill="#86aac8"/><rect x="16" y="24" width="2" height="2" fill="#c87444"/><rect x="18" y="24" width="2" height="2" fill="#a85a36"/><rect x="20" y="24" width="4" height="2" fill="#86aac8"/><rect x="24" y="24" width="2" height="2" fill="#c87444"/><rect x="26" y="24" width="2" height="2" fill="#a85a36"/><rect x="2" y="26" width="6" height="2" fill="#a85a36"/><rect x="10" y="26" width="6" height="2" fill="#a85a36"/><rect x="18" y="26" width="6" height="2" fill="#a85a36"/></svg>
<svg style="left:929px;top:667px;" width="26" height="16"><rect x="8" y="0" width="10" height="2" fill="#3c9a3c"/><rect x="4" y="2" width="6" height="2" fill="#3b5674"/><rect x="10" y="2" width="6" height="2" fill="#3c9a3c"/><rect x="16" y="2" width="6" height="2" fill="#3b5674"/><rect x="2" y="4" width="2" height="2" fill="#3b5674"/><rect x="4" y="4" width="4" height="2" fill="#2a3e58"/><rect x="8" y="4" width="10" height="2" fill="#3b5674"/><rect x="18" y="4" width="4" height="2" fill="#2a3e58"/><rect x="22" y="4" width="2" height="2" fill="#3b5674"/><rect x="0" y="6" width="2" height="2" fill="#3b5674"/><rect x="2" y="6" width="2" height="2" fill="#86aac8"/><rect x="4" y="6" width="4" height="2" fill="#2a3e58"/><rect x="8" y="6" width="10" height="2" fill="#3b5674"/><rect x="18" y="6" width="4" height="2" fill="#2a3e58"/><rect x="22" y="6" width="2" height="2" fill="#86aac8"/><rect x="24" y="6" width="2" height="2" fill="#3b5674"/><rect x="0" y="8" width="2" height="2" fill="#3b5674"/><rect x="2" y="8" width="4" height="2" fill="#2a3e58"/><rect x="6" y="8" width="4" height="2" fill="#3b5674"/><rect x="10" y="8" width="6" height="2" fill="#86aac8"/><rect x="16" y="8" width="4" height="2" fill="#3b5674"/><rect x="20" y="8" width="4" height="2" fill="#2a3e58"/><rect x="24" y="8" width="2" height="2" fill="#3b5674"/><rect x="0" y="10" width="2" height="2" fill="#3b5674"/><rect x="2" y="10" width="2" height="2" fill="#86aac8"/><rect x="4" y="10" width="2" height="2" fill="#2a3e58"/><rect x="6" y="10" width="2" height="2" fill="#3b5674"/><rect x="8" y="10" width="2" height="2" fill="#86aac8"/><rect x="10" y="10" width="6" height="2" fill="#2a3e58"/><rect x="16" y="10" width="2" height="2" fill="#86aac8"/><rect x="18" y="10" width="2" height="2" fill="#3b5674"/><rect x="20" y="10" width="2" height="2" fill="#2a3e58"/><rect x="22" y="10" width="2" height="2" fill="#86aac8"/><rect x="24" y="10" width="2" height="2" fill="#3b5674"/><rect x="2" y="12" width="2" height="2" fill="#3b5674"/><rect x="4" y="12" width="2" height="2" fill="#2a3e58"/><rect x="6" y="12" width="4" height="2" fill="#3b5674"/><rect x="10" y="12" width="6" height="2" fill="#86aac8"/><rect x="16" y="12" width="4" height="2" fill="#3b5674"/><rect x="20" y="12" width="2" height="2" fill="#2a3e58"/><rect x="22" y="12" width="2" height="2" fill="#3b5674"/><rect x="4" y="14" width="18" height="2" fill="#3b5674"/></svg>
<svg style="left:902px;top:696px;" width="12" height="12"><rect x="4" y="0" width="4" height="2" fill="#ff7a1c"/><rect x="2" y="2" width="8" height="2" fill="#ff7a1c"/><rect x="0" y="4" width="12" height="2" fill="#ff7a1c"/><rect x="0" y="6" width="12" height="2" fill="#ff7a1c"/><rect x="2" y="8" width="8" height="2" fill="#ff7a1c"/><rect x="4" y="10" width="4" height="2" fill="#ff7a1c"/></svg>
<svg style="left:934px;top:696px;" width="12" height="12"><rect x="4" y="0" width="4" height="2" fill="#3fa294"/><rect x="2" y="2" width="8" height="2" fill="#3fa294"/><rect x="0" y="4" width="12" height="2" fill="#3fa294"/><rect x="0" y="6" width="12" height="2" fill="#3fa294"/><rect x="2" y="8" width="8" height="2" fill="#3fa294"/><rect x="4" y="10" width="4" height="2" fill="#3fa294"/></svg>
<div class="node" style="left:864px;top:860px;"></div>
<div class="badge" style="left:983px;top:867px;"></div>
<div class="tx" style="left:923.5px;top:868.64px;font-size:15.9px;color:#eef2f6;letter-spacing:0.4px;transform:translateX(-50%);">Capturing Work</div>
<div class="tx" style="left:996px;top:872.29px;font-size:19.5px;color:#ffffff;font-weight:bold;transform:translateX(-50%);">3</div>
<svg style="left:886px;top:898px;" width="21" height="17"><rect x="9" y="0" width="8" height="1" fill="#e4f2fc"/><rect x="19" y="0" width="2" height="1" fill="#e4f2fc"/><rect x="7" y="1" width="2" height="1" fill="#e4f2fc"/><rect x="9" y="1" width="7" height="1" fill="#b4b4b8"/><rect x="16" y="1" width="1" height="1" fill="#e4f2fc"/><rect x="19" y="1" width="2" height="1" fill="#e4f2fc"/><rect x="5" y="2" width="2" height="1" fill="#e4f2fc"/><rect x="7" y="2" width="1" height="1" fill="#b4b4b8"/><rect x="9" y="2" width="1" height="1" fill="#b4b4b8"/><rect x="11" y="2" width="1" height="1" fill="#b4b4b8"/><rect x="4" y="3" width="1" height="1" fill="#e4f2fc"/><rect x="5" y="3" width="1" height="1" fill="#b4b4b8"/><rect x="7" y="3" width="1" height="1" fill="#b4b4b8"/><rect x="9" y="3" width="1" height="1" fill="#b4b4b8"/><rect x="3" y="4" width="1" height="1" fill="#e4f2fc"/><rect x="4" y="4" width="1" height="1" fill="#b4b4b8"/><rect x="6" y="4" width="1" height="1" fill="#b4b4b8"/><rect x="8" y="4" width="1" height="1" fill="#b4b4b8"/><rect x="2" y="5" width="1" height="1" fill="#e4f2fc"/><rect x="3" y="5" width="2" height="1" fill="#b4b4b8"/><rect x="6" y="5" width="1" height="1" fill="#b4b4b8"/><rect x="2" y="6" width="1" height="1" fill="#e4f2fc"/><rect x="3" y="6" width="1" height="1" fill="#b4b4b8"/><rect x="5" y="6" width="1" height="1" fill="#b4b4b8"/><rect x="1" y="7" width="1" height="1" fill="#e4f2fc"/><rect x="2" y="7" width="1" height="1" fill="#b4b4b8"/><rect x="4" y="7" width="1" height="1" fill="#b4b4b8"/><rect x="1" y="8" width="1" height="1" fill="#e4f2fc"/><rect x="2" y="8" width="2" height="1" fill="#b4b4b8"/><rect x="1" y="9" width="1" height="1" fill="#e4f2fc"/><rect x="2" y="9" width="1" height="1" fill="#b4b4b8"/><rect x="4" y="9" width="1" height="1" fill="#b4b4b8"/><rect x="2" y="10" width="1" height="1" fill="#e4f2fc"/><rect x="3" y="10" width="1" height="1" fill="#b4b4b8"/><rect x="5" y="10" width="1" height="1" fill="#b4b4b8"/><rect x="2" y="11" width="1" height="1" fill="#e4f2fc"/><rect x="3" y="11" width="2" height="1" fill="#b4b4b8"/><rect x="6" y="11" width="1" height="1" fill="#b4b4b8"/><rect x="3" y="12" width="1" height="1" fill="#e4f2fc"/><rect x="4" y="12" width="1" height="1" fill="#b4b4b8"/><rect x="6" y="12" width="1" height="1" fill="#b4b4b8"/><rect x="8" y="12" width="1" height="1" fill="#b4b4b8"/><rect x="4" y="13" width="1" height="1" fill="#e4f2fc"/><rect x="5" y="13" width="1" height="1" fill="#b4b4b8"/><rect x="7" y="13" width="1" height="1" fill="#b4b4b8"/><rect x="9" y="13" width="1" height="1" fill="#b4b4b8"/><rect x="5" y="14" width="2" height="1" fill="#e4f2fc"/><rect x="7" y="14" width="1" height="1" fill="#b4b4b8"/><rect x="9" y="14" width="1" height="1" fill="#b4b4b8"/><rect x="11" y="14" width="1" height="1" fill="#b4b4b8"/><rect x="7" y="15" width="2" height="1" fill="#e4f2fc"/><rect x="9" y="15" width="7" height="1" fill="#b4b4b8"/><rect x="16" y="15" width="1" height="1" fill="#e4f2fc"/><rect x="19" y="15" width="2" height="1" fill="#e4f2fc"/><rect x="9" y="16" width="8" height="1" fill="#e4f2fc"/><rect x="19" y="16" width="2" height="1" fill="#e4f2fc"/></svg>
<svg style="left:929px;top:892px;" width="26" height="24"><rect x="4" y="0" width="2" height="2" fill="#d88c5c"/><rect x="10" y="0" width="2" height="2" fill="#d88c5c"/><rect x="14" y="0" width="2" height="2" fill="#d88c5c"/><rect x="20" y="0" width="2" height="2" fill="#d88c5c"/><rect x="4" y="2" width="4" height="2" fill="#d88c5c"/><rect x="10" y="2" width="6" height="2" fill="#d88c5c"/><rect x="18" y="2" width="4" height="2" fill="#d88c5c"/><rect x="2" y="4" width="22" height="2" fill="#d88c5c"/><rect x="0" y="6" width="10" height="2" fill="#d88c5c"/><rect x="10" y="6" width="2" height="2" fill="#a85a36"/><rect x="12" y="6" width="2" height="2" fill="#d88c5c"/><rect x="14" y="6" width="2" height="2" fill="#a85a36"/><rect x="16" y="6" width="10" height="2" fill="#d88c5c"/><rect x="0" y="8" width="2" height="2" fill="#86aac8"/><rect x="2" y="8" width="2" height="2" fill="#a6cdf0"/><rect x="4" y="8" width="6" height="2" fill="#d88c5c"/><rect x="10" y="8" width="2" height="2" fill="#a85a36"/><rect x="12" y="8" width="2" height="2" fill="#d88c5c"/><rect x="14" y="8" width="2" height="2" fill="#a85a36"/><rect x="16" y="8" width="6" height="2" fill="#d88c5c"/><rect x="22" y="8" width="2" height="2" fill="#a6cdf0"/><rect x="24" y="8" width="2" height="2" fill="#86aac8"/><rect x="0" y="10" width="2" height="2" fill="#86aac8"/><rect x="2" y="10" width="2" height="2" fill="#a6cdf0"/><rect x="4" y="10" width="2" height="2" fill="#d88c5c"/><rect x="6" y="10" width="2" height="2" fill="#a85a36"/><rect x="8" y="10" width="4" height="2" fill="#d88c5c"/><rect x="12" y="10" width="2" height="2" fill="#a85a36"/><rect x="14" y="10" width="4" height="2" fill="#d88c5c"/><rect x="18" y="10" width="2" height="2" fill="#a85a36"/><rect x="20" y="10" width="2" height="2" fill="#d88c5c"/><rect x="22" y="10" width="2" height="2" fill="#a6cdf0"/><rect x="24" y="10" width="2" height="2" fill="#86aac8"/><rect x="0" y="12" width="2" height="2" fill="#e4f2fc"/><rect x="4" y="12" width="2" height="2" fill="#a6cdf0"/><rect x="6" y="12" width="4" height="2" fill="#d88c5c"/><rect x="10" y="12" width="2" height="2" fill="#a85a36"/><rect x="12" y="12" width="2" height="2" fill="#d88c5c"/><rect x="14" y="12" width="2" height="2" fill="#a85a36"/><rect x="16" y="12" width="4" height="2" fill="#d88c5c"/><rect x="20" y="12" width="2" height="2" fill="#a6cdf0"/><rect x="24" y="12" width="2" height="2" fill="#e4f2fc"/><rect x="4" y="14" width="2" height="2" fill="#a6cdf0"/><rect x="6" y="14" width="6" height="2" fill="#d88c5c"/><rect x="12" y="14" width="2" height="2" fill="#a85a36"/><rect x="14" y="14" width="6" height="2" fill="#d88c5c"/><rect x="20" y="14" width="2" height="2" fill="#a6cdf0"/><rect x="0" y="16" width="2" height="2" fill="#e4f2fc"/><rect x="6" y="16" width="4" height="2" fill="#d88c5c"/><rect x="10" y="16" width="2" height="2" fill="#a85a36"/><rect x="12" y="16" width="2" height="2" fill="#d88c5c"/><rect x="14" y="16" width="2" height="2" fill="#a85a36"/><rect x="16" y="16" width="4" height="2" fill="#d88c5c"/><rect x="24" y="16" width="2" height="2" fill="#e4f2fc"/><rect x="10" y="18" width="2" height="2" fill="#d88c5c"/><rect x="12" y="18" width="2" height="2" fill="#a85a36"/><rect x="14" y="18" width="2" height="2" fill="#d88c5c"/><rect x="10" y="20" width="2" height="2" fill="#d88c5c"/><rect x="12" y="20" width="2" height="2" fill="#a85a36"/><rect x="14" y="20" width="2" height="2" fill="#d88c5c"/><rect x="12" y="22" width="2" height="2" fill="#d88c5c"/></svg>
<svg style="left:884px;top:925px;" width="32" height="28"><rect x="4" y="0" width="26" height="2" fill="#141824"/><rect x="2" y="2" width="2" height="2" fill="#141824"/><rect x="4" y="2" width="26" height="2" fill="#d88c5c"/><rect x="30" y="2" width="2" height="2" fill="#141824"/><rect x="0" y="4" width="2" height="2" fill="#141824"/><rect x="2" y="4" width="26" height="2" fill="#c87444"/><rect x="28" y="4" width="2" height="2" fill="#6e3622"/><rect x="30" y="4" width="2" height="2" fill="#141824"/><rect x="0" y="6" width="2" height="2" fill="#141824"/><rect x="2" y="6" width="2" height="2" fill="#c87444"/><rect x="4" y="6" width="4" height="2" fill="#ffd02a"/><rect x="8" y="6" width="6" height="2" fill="#e8621c"/><rect x="14" y="6" width="4" height="2" fill="#ffd02a"/><rect x="18" y="6" width="6" height="2" fill="#e8621c"/><rect x="24" y="6" width="2" height="2" fill="#c87444"/><rect x="26" y="6" width="4" height="2" fill="#6e3622"/><rect x="30" y="6" width="2" height="2" fill="#141824"/><rect x="0" y="8" width="2" height="2" fill="#141824"/><rect x="2" y="8" width="2" height="2" fill="#c87444"/><rect x="4" y="8" width="6" height="2" fill="#ffd02a"/><rect x="10" y="8" width="2" height="2" fill="#e8621c"/><rect x="12" y="8" width="8" height="2" fill="#ffd02a"/><rect x="20" y="8" width="4" height="2" fill="#e8621c"/><rect x="24" y="8" width="2" height="2" fill="#c87444"/><rect x="26" y="8" width="4" height="2" fill="#6e3622"/><rect x="30" y="8" width="2" height="2" fill="#141824"/><rect x="0" y="10" width="2" height="2" fill="#141824"/><rect x="2" y="10" width="2" height="2" fill="#c87444"/><rect x="4" y="10" width="4" height="2" fill="#e8621c"/><rect x="8" y="10" width="8" height="2" fill="#ffd02a"/><rect x="16" y="10" width="2" height="2" fill="#e8621c"/><rect x="18" y="10" width="4" height="2" fill="#ffd02a"/><rect x="22" y="10" width="2" height="2" fill="#e8621c"/><rect x="24" y="10" width="2" height="2" fill="#c87444"/><rect x="26" y="10" width="4" height="2" fill="#6e3622"/><rect x="30" y="10" width="2" height="2" fill="#141824"/><rect x="0" y="12" width="2" height="2" fill="#141824"/><rect x="2" y="12" width="2" height="2" fill="#c87444"/><rect x="4" y="12" width="6" height="2" fill="#e8621c"/><rect x="10" y="12" width="4" height="2" fill="#ffd02a"/><rect x="14" y="12" width="8" height="2" fill="#e8621c"/><rect x="22" y="12" width="2" height="2" fill="#ffd02a"/><rect x="24" y="12" width="2" height="2" fill="#c87444"/><rect x="26" y="12" width="4" height="2" fill="#6e3622"/><rect x="30" y="12" width="2" height="2" fill="#141824"/><rect x="0" y="14" width="2" height="2" fill="#141824"/><rect x="2" y="14" width="4" height="2" fill="#c87444"/><rect x="6" y="14" width="2" height="2" fill="#e8621c"/><rect x="8" y="14" width="2" height="2" fill="#c87444"/><rect x="10" y="14" width="2" height="2" fill="#e8621c"/><rect x="12" y="14" width="6" height="2" fill="#c87444"/><rect x="18" y="14" width="2" height="2" fill="#e8621c"/><rect x="20" y="14" width="6" height="2" fill="#c87444"/><rect x="26" y="14" width="4" height="2" fill="#6e3622"/><rect x="30" y="14" width="2" height="2" fill="#141824"/><rect x="0" y="16" width="2" height="2" fill="#141824"/><rect x="2" y="16" width="2" height="2" fill="#c87444"/><rect x="4" y="16" width="4" height="2" fill="#ffd02a"/><rect x="8" y="16" width="2" height="2" fill="#e8621c"/><rect x="10" y="16" width="2" height="2" fill="#ffd02a"/><rect x="12" y="16" width="6" height="2" fill="#e8621c"/><rect x="18" y="16" width="4" height="2" fill="#ffd02a"/><rect x="22" y="16" width="2" height="2" fill="#e8621c"/><rect x="24" y="16" width="2" height="2" fill="#c87444"/><rect x="26" y="16" width="4" height="2" fill="#6e3622"/><rect x="30" y="16" width="2" height="2" fill="#141824"/><rect x="0" y="18" width="2" height="2" fill="#141824"/><rect x="2" y="18" width="2" height="2" fill="#c87444"/><rect x="4" y="18" width="8" height="2" fill="#ffd02a"/><rect x="12" y="18" width="4" height="2" fill="#e8621c"/><rect x="16" y="18" width="8" height="2" fill="#ffd02a"/><rect x="24" y="18" width="2" height="2" fill="#c87444"/><rect x="26" y="18" width="4" height="2" fill="#6e3622"/><rect x="30" y="18" width="2" height="2" fill="#141824"/><rect x="0" y="20" width="2" height="2" fill="#141824"/><rect x="2" y="20" width="2" height="2" fill="#c87444"/><rect x="4" y="20" width="2" height="2" fill="#e8621c"/><rect x="6" y="20" width="4" height="2" fill="#ffd02a"/><rect x="10" y="20" width="4" height="2" fill="#e8621c"/><rect x="14" y="20" width="6" height="2" fill="#ffd02a"/><rect x="20" y="20" width="4" height="2" fill="#e8621c"/><rect x="24" y="20" width="2" height="2" fill="#c87444"/><rect x="26" y="20" width="4" height="2" fill="#6e3622"/><rect x="30" y="20" width="2" height="2" fill="#141824"/><rect x="0" y="22" width="2" height="2" fill="#141824"/><rect x="2" y="22" width="2" height="2" fill="#c87444"/><rect x="4" y="22" width="2" height="2" fill="#e8621c"/><rect x="6" y="22" width="2" height="2" fill="#ffd02a"/><rect x="8" y="22" width="10" height="2" fill="#e8621c"/><rect x="18" y="22" width="2" height="2" fill="#ffd02a"/><rect x="20" y="22" width="4" height="2" fill="#e8621c"/><rect x="24" y="22" width="2" height="2" fill="#c87444"/><rect x="26" y="22" width="2" height="2" fill="#6e3622"/><rect x="28" y="22" width="2" height="2" fill="#141824"/><rect x="0" y="24" width="2" height="2" fill="#141824"/><rect x="2" y="24" width="24" height="2" fill="#c87444"/><rect x="26" y="24" width="2" height="2" fill="#6e3622"/><rect x="28" y="24" width="2" height="2" fill="#141824"/><rect x="2" y="26" width="26" height="2" fill="#141824"/></svg>
<svg style="left:918px;top:958px;" width="12" height="12"><rect x="4" y="0" width="4" height="2" fill="#ff7a1c"/><rect x="2" y="2" width="8" height="2" fill="#ff7a1c"/><rect x="0" y="4" width="12" height="2" fill="#ff7a1c"/><rect x="0" y="6" width="12" height="2" fill="#ff7a1c"/><rect x="2" y="8" width="8" height="2" fill="#ff7a1c"/><rect x="4" y="10" width="4" height="2" fill="#ff7a1c"/></svg>
<div class="node" style="left:1117px;top:196px;"></div>
<div class="badge" style="left:1236px;top:203px;"></div>
<div class="tx" style="left:1176.5px;top:203.99px;font-size:17.5px;color:#eef2f6;letter-spacing:1.5px;transform:translateX(-50%);">Distillation</div>
<div class="tx" style="left:1249px;top:208.29px;font-size:19.5px;color:#ffffff;font-weight:bold;transform:translateX(-50%);">1</div>
<svg style="left:1139px;top:227px;" width="28" height="30"><rect x="10" y="0" width="8" height="2" fill="#8ab0c8"/><rect x="6" y="2" width="4" height="2" fill="#8ab0c8"/><rect x="18" y="2" width="4" height="2" fill="#8ab0c8"/><rect x="4" y="4" width="2" height="2" fill="#8ab0c8"/><rect x="22" y="4" width="2" height="2" fill="#8ab0c8"/><rect x="2" y="6" width="2" height="2" fill="#8ab0c8"/><rect x="24" y="6" width="2" height="2" fill="#8ab0c8"/><rect x="2" y="8" width="2" height="2" fill="#8ab0c8"/><rect x="24" y="8" width="2" height="2" fill="#8ab0c8"/><rect x="0" y="10" width="2" height="2" fill="#8ab0c8"/><rect x="26" y="10" width="2" height="2" fill="#8ab0c8"/><rect x="0" y="12" width="2" height="2" fill="#8ab0c8"/><rect x="26" y="12" width="2" height="2" fill="#8ab0c8"/><rect x="0" y="14" width="2" height="2" fill="#8ab0c8"/><rect x="26" y="14" width="2" height="2" fill="#8ab0c8"/><rect x="0" y="16" width="2" height="2" fill="#8ab0c8"/><rect x="26" y="16" width="2" height="2" fill="#8ab0c8"/><rect x="2" y="18" width="2" height="2" fill="#8ab0c8"/><rect x="24" y="18" width="2" height="2" fill="#8ab0c8"/><rect x="2" y="20" width="2" height="2" fill="#8ab0c8"/><rect x="8" y="20" width="2" height="2" fill="#e4f2fc"/><rect x="18" y="20" width="2" height="2" fill="#e4f2fc"/><rect x="24" y="20" width="2" height="2" fill="#8ab0c8"/><rect x="4" y="22" width="2" height="2" fill="#8ab0c8"/><rect x="8" y="22" width="2" height="2" fill="#a8d0e8"/><rect x="18" y="22" width="2" height="2" fill="#a8d0e8"/><rect x="22" y="22" width="2" height="2" fill="#8ab0c8"/><rect x="4" y="24" width="2" height="2" fill="#8ab0c8"/><rect x="6" y="24" width="16" height="2" fill="#a8d0e8"/><rect x="22" y="24" width="2" height="2" fill="#8ab0c8"/><rect x="4" y="26" width="2" height="2" fill="#8ab0c8"/><rect x="6" y="26" width="2" height="2" fill="#a8d0e8"/><rect x="10" y="26" width="2" height="2" fill="#8ab0c8"/><rect x="12" y="26" width="4" height="2" fill="#a8d0e8"/><rect x="16" y="26" width="2" height="2" fill="#8ab0c8"/><rect x="20" y="26" width="2" height="2" fill="#a8d0e8"/><rect x="22" y="26" width="2" height="2" fill="#8ab0c8"/><rect x="6" y="28" width="2" height="2" fill="#8ab0c8"/><rect x="20" y="28" width="2" height="2" fill="#8ab0c8"/></svg>
<svg style="left:1183px;top:234px;" width="24" height="14"><rect x="18" y="0" width="2" height="2" fill="#b8202a"/><rect x="8" y="2" width="4" height="2" fill="#5c7e9e"/><rect x="16" y="2" width="2" height="2" fill="#b8202a"/><rect x="18" y="2" width="2" height="2" fill="#86aac8"/><rect x="20" y="2" width="2" height="2" fill="#b8202a"/><rect x="4" y="4" width="10" height="2" fill="#5c7e9e"/><rect x="16" y="4" width="6" height="2" fill="#86aac8"/><rect x="22" y="4" width="2" height="2" fill="#e4f2fc"/><rect x="2" y="6" width="2" height="2" fill="#2a3e58"/><rect x="4" y="6" width="2" height="2" fill="#86aac8"/><rect x="6" y="6" width="2" height="2" fill="#2a3e58"/><rect x="8" y="6" width="2" height="2" fill="#86aac8"/><rect x="10" y="6" width="2" height="2" fill="#2a3e58"/><rect x="12" y="6" width="2" height="2" fill="#86aac8"/><rect x="14" y="6" width="2" height="2" fill="#2a3e58"/><rect x="16" y="6" width="2" height="2" fill="#86aac8"/><rect x="22" y="6" width="2" height="2" fill="#e4f2fc"/><rect x="0" y="8" width="4" height="2" fill="#2a3e58"/><rect x="4" y="8" width="2" height="2" fill="#86aac8"/><rect x="6" y="8" width="2" height="2" fill="#2a3e58"/><rect x="8" y="8" width="2" height="2" fill="#86aac8"/><rect x="10" y="8" width="2" height="2" fill="#2a3e58"/><rect x="12" y="8" width="2" height="2" fill="#86aac8"/><rect x="14" y="8" width="4" height="2" fill="#2a3e58"/><rect x="0" y="10" width="4" height="2" fill="#2a3e58"/><rect x="4" y="10" width="2" height="2" fill="#86aac8"/><rect x="6" y="10" width="2" height="2" fill="#2a3e58"/><rect x="8" y="10" width="2" height="2" fill="#86aac8"/><rect x="10" y="10" width="2" height="2" fill="#2a3e58"/><rect x="12" y="10" width="2" height="2" fill="#86aac8"/><rect x="14" y="10" width="4" height="2" fill="#2a3e58"/><rect x="2" y="12" width="14" height="2" fill="#2a3e58"/></svg>
<svg style="left:1155px;top:294px;" width="12" height="12"><rect x="4" y="0" width="4" height="2" fill="#ff7a1c"/><rect x="2" y="2" width="8" height="2" fill="#ff7a1c"/><rect x="0" y="4" width="12" height="2" fill="#ff7a1c"/><rect x="0" y="6" width="12" height="2" fill="#ff7a1c"/><rect x="2" y="8" width="8" height="2" fill="#ff7a1c"/><rect x="4" y="10" width="4" height="2" fill="#ff7a1c"/></svg>
<svg style="left:1187px;top:294px;" width="12" height="12"><rect x="4" y="0" width="4" height="2" fill="#3fa294"/><rect x="2" y="2" width="8" height="2" fill="#3fa294"/><rect x="0" y="4" width="12" height="2" fill="#3fa294"/><rect x="0" y="6" width="12" height="2" fill="#3fa294"/><rect x="2" y="8" width="8" height="2" fill="#3fa294"/><rect x="4" y="10" width="4" height="2" fill="#3fa294"/></svg>
<div class="node" style="left:1117px;top:718px;"></div>
<div class="badge" style="left:1236px;top:725px;"></div>
<div class="tx" style="left:1176.5px;top:727.10px;font-size:15.0px;color:#eef2f6;letter-spacing:0.65px;transform:translateX(-50%);">Refined Cooking</div>
<div class="tx" style="left:1249px;top:730.29px;font-size:19.5px;color:#ffffff;font-weight:bold;transform:translateX(-50%);">3</div>
<svg style="left:1139px;top:750px;" width="28" height="26"><rect x="2" y="0" width="24" height="2" fill="#a8dcf0"/><rect x="0" y="2" width="2" height="2" fill="#a8dcf0"/><rect x="2" y="2" width="24" height="2" fill="#7898a8"/><rect x="26" y="2" width="2" height="2" fill="#a8dcf0"/><rect x="0" y="4" width="2" height="2" fill="#a8dcf0"/><rect x="2" y="4" width="24" height="2" fill="#7898a8"/><rect x="26" y="4" width="2" height="2" fill="#a8dcf0"/><rect x="0" y="6" width="2" height="2" fill="#a8dcf0"/><rect x="2" y="6" width="24" height="2" fill="#7898a8"/><rect x="26" y="6" width="2" height="2" fill="#a8dcf0"/><rect x="0" y="8" width="2" height="2" fill="#a8dcf0"/><rect x="2" y="8" width="24" height="2" fill="#7898a8"/><rect x="26" y="8" width="2" height="2" fill="#a8dcf0"/><rect x="0" y="10" width="28" height="2" fill="#a8dcf0"/><rect x="0" y="12" width="2" height="2" fill="#a8dcf0"/><rect x="2" y="12" width="24" height="2" fill="#88a8b8"/><rect x="26" y="12" width="2" height="2" fill="#a8dcf0"/><rect x="0" y="14" width="2" height="2" fill="#a8dcf0"/><rect x="2" y="14" width="24" height="2" fill="#88a8b8"/><rect x="26" y="14" width="2" height="2" fill="#a8dcf0"/><rect x="0" y="16" width="2" height="2" fill="#a8dcf0"/><rect x="2" y="16" width="24" height="2" fill="#88a8b8"/><rect x="26" y="16" width="2" height="2" fill="#a8dcf0"/><rect x="0" y="18" width="2" height="2" fill="#a8dcf0"/><rect x="2" y="18" width="24" height="2" fill="#88a8b8"/><rect x="26" y="18" width="2" height="2" fill="#a8dcf0"/><rect x="0" y="20" width="2" height="2" fill="#a8dcf0"/><rect x="2" y="20" width="24" height="2" fill="#88a8b8"/><rect x="26" y="20" width="2" height="2" fill="#a8dcf0"/><rect x="2" y="22" width="24" height="2" fill="#a8dcf0"/><rect x="8" y="24" width="2" height="2" fill="#a8dcf0"/><rect x="14" y="24" width="2" height="2" fill="#a8dcf0"/></svg>
<svg style="left:1182px;top:751px;" width="26" height="26"><rect x="2" y="0" width="24" height="2" fill="#2a3444"/><rect x="0" y="2" width="2" height="2" fill="#2a3444"/><rect x="2" y="2" width="22" height="2" fill="#4a5c72"/><rect x="24" y="2" width="2" height="2" fill="#2a3444"/><rect x="0" y="4" width="2" height="2" fill="#2a3444"/><rect x="2" y="4" width="2" height="2" fill="#4a5c72"/><rect x="4" y="4" width="18" height="2" fill="#232d3d"/><rect x="22" y="4" width="2" height="2" fill="#4a5c72"/><rect x="24" y="4" width="2" height="2" fill="#2a3444"/><rect x="0" y="6" width="2" height="2" fill="#2a3444"/><rect x="2" y="6" width="2" height="2" fill="#4a5c72"/><rect x="4" y="6" width="6" height="2" fill="#232d3d"/><rect x="10" y="6" width="2" height="2" fill="#ffffff"/><rect x="12" y="6" width="4" height="2" fill="#232d3d"/><rect x="16" y="6" width="2" height="2" fill="#ffffff"/><rect x="18" y="6" width="4" height="2" fill="#232d3d"/><rect x="22" y="6" width="2" height="2" fill="#4a5c72"/><rect x="24" y="6" width="2" height="2" fill="#2a3444"/><rect x="0" y="8" width="2" height="2" fill="#e06464"/><rect x="2" y="8" width="2" height="2" fill="#4a5c72"/><rect x="4" y="8" width="6" height="2" fill="#232d3d"/><rect x="10" y="8" width="2" height="2" fill="#bfe2f8"/><rect x="12" y="8" width="4" height="2" fill="#232d3d"/><rect x="16" y="8" width="2" height="2" fill="#bfe2f8"/><rect x="18" y="8" width="4" height="2" fill="#232d3d"/><rect x="22" y="8" width="2" height="2" fill="#4a5c72"/><rect x="24" y="8" width="2" height="2" fill="#2a3444"/><rect x="0" y="10" width="2" height="2" fill="#2a3444"/><rect x="2" y="10" width="2" height="2" fill="#4a5c72"/><rect x="4" y="10" width="4" height="2" fill="#232d3d"/><rect x="8" y="10" width="12" height="2" fill="#bfe2f8"/><rect x="20" y="10" width="2" height="2" fill="#232d3d"/><rect x="22" y="10" width="2" height="2" fill="#4a5c72"/><rect x="24" y="10" width="2" height="2" fill="#2a3444"/><rect x="0" y="12" width="2" height="2" fill="#e06464"/><rect x="2" y="12" width="2" height="2" fill="#4a5c72"/><rect x="4" y="12" width="4" height="2" fill="#232d3d"/><rect x="8" y="12" width="6" height="2" fill="#bfe2f8"/><rect x="14" y="12" width="2" height="2" fill="#232d3d"/><rect x="16" y="12" width="6" height="2" fill="#bfe2f8"/><rect x="22" y="12" width="2" height="2" fill="#4a5c72"/><rect x="24" y="12" width="2" height="2" fill="#2a3444"/><rect x="0" y="14" width="2" height="2" fill="#2a3444"/><rect x="2" y="14" width="2" height="2" fill="#4a5c72"/><rect x="4" y="14" width="4" height="2" fill="#232d3d"/><rect x="8" y="14" width="6" height="2" fill="#bfe2f8"/><rect x="14" y="14" width="2" height="2" fill="#232d3d"/><rect x="16" y="14" width="6" height="2" fill="#bfe2f8"/><rect x="22" y="14" width="2" height="2" fill="#4a5c72"/><rect x="24" y="14" width="2" height="2" fill="#2a3444"/><rect x="0" y="16" width="2" height="2" fill="#e06464"/><rect x="2" y="16" width="2" height="2" fill="#4a5c72"/><rect x="4" y="16" width="4" height="2" fill="#232d3d"/><rect x="8" y="16" width="14" height="2" fill="#bfe2f8"/><rect x="22" y="16" width="2" height="2" fill="#4a5c72"/><rect x="24" y="16" width="2" height="2" fill="#2a3444"/><rect x="0" y="18" width="2" height="2" fill="#2a3444"/><rect x="2" y="18" width="2" height="2" fill="#4a5c72"/><rect x="4" y="18" width="4" height="2" fill="#232d3d"/><rect x="8" y="18" width="2" height="2" fill="#bfe2f8"/><rect x="10" y="18" width="2" height="2" fill="#1a2230"/><rect x="12" y="18" width="4" height="2" fill="#bfe2f8"/><rect x="16" y="18" width="2" height="2" fill="#1a2230"/><rect x="18" y="18" width="4" height="2" fill="#bfe2f8"/><rect x="22" y="18" width="2" height="2" fill="#4a5c72"/><rect x="24" y="18" width="2" height="2" fill="#2a3444"/><rect x="0" y="20" width="2" height="2" fill="#2a3444"/><rect x="2" y="20" width="2" height="2" fill="#4a5c72"/><rect x="4" y="20" width="4" height="2" fill="#232d3d"/><rect x="8" y="20" width="14" height="2" fill="#bfe2f8"/><rect x="22" y="20" width="2" height="2" fill="#4a5c72"/><rect x="24" y="20" width="2" height="2" fill="#2a3444"/><rect x="0" y="22" width="2" height="2" fill="#2a3444"/><rect x="2" y="22" width="22" height="2" fill="#4a5c72"/><rect x="24" y="22" width="2" height="2" fill="#2a3444"/><rect x="2" y="24" width="22" height="2" fill="#2a3444"/></svg>
<svg style="left:1138px;top:782px;" width="30" height="28"><rect x="4" y="0" width="22" height="2" fill="#2c3644"/><rect x="2" y="2" width="2" height="2" fill="#2c3644"/><rect x="4" y="2" width="22" height="2" fill="#3c4858"/><rect x="26" y="2" width="2" height="2" fill="#2c3644"/><rect x="0" y="4" width="2" height="2" fill="#2c3644"/><rect x="2" y="4" width="2" height="2" fill="#3c4858"/><rect x="4" y="4" width="2" height="2" fill="#2c3644"/><rect x="6" y="4" width="18" height="2" fill="#3c4858"/><rect x="24" y="4" width="2" height="2" fill="#2c3644"/><rect x="26" y="4" width="2" height="2" fill="#3c4858"/><rect x="28" y="4" width="2" height="2" fill="#2c3644"/><rect x="0" y="6" width="2" height="2" fill="#2c3644"/><rect x="2" y="6" width="2" height="2" fill="#3c4858"/><rect x="4" y="6" width="2" height="2" fill="#2c3644"/><rect x="6" y="6" width="4" height="2" fill="#3c4858"/><rect x="10" y="6" width="10" height="2" fill="#4e6a88"/><rect x="20" y="6" width="4" height="2" fill="#3c4858"/><rect x="24" y="6" width="2" height="2" fill="#2c3644"/><rect x="26" y="6" width="2" height="2" fill="#3c4858"/><rect x="28" y="6" width="2" height="2" fill="#2c3644"/><rect x="0" y="8" width="2" height="2" fill="#2c3644"/><rect x="2" y="8" width="6" height="2" fill="#3c4858"/><rect x="8" y="8" width="4" height="2" fill="#4e6a88"/><rect x="12" y="8" width="6" height="2" fill="#353f4d"/><rect x="18" y="8" width="4" height="2" fill="#4e6a88"/><rect x="22" y="8" width="6" height="2" fill="#3c4858"/><rect x="28" y="8" width="2" height="2" fill="#2c3644"/><rect x="0" y="10" width="2" height="2" fill="#2c3644"/><rect x="2" y="10" width="4" height="2" fill="#3c4858"/><rect x="6" y="10" width="4" height="2" fill="#4e6a88"/><rect x="10" y="10" width="10" height="2" fill="#353f4d"/><rect x="20" y="10" width="4" height="2" fill="#4e6a88"/><rect x="24" y="10" width="4" height="2" fill="#3c4858"/><rect x="28" y="10" width="2" height="2" fill="#2c3644"/><rect x="0" y="12" width="4" height="2" fill="#d0d8e0"/><rect x="4" y="12" width="2" height="2" fill="#1a2230"/><rect x="6" y="12" width="2" height="2" fill="#4e6a88"/><rect x="8" y="12" width="14" height="2" fill="#353f4d"/><rect x="22" y="12" width="2" height="2" fill="#4e6a88"/><rect x="24" y="12" width="2" height="2" fill="#1a2230"/><rect x="26" y="12" width="4" height="2" fill="#d0d8e0"/><rect x="0" y="14" width="2" height="2" fill="#2c3644"/><rect x="2" y="14" width="4" height="2" fill="#d0d8e0"/><rect x="6" y="14" width="2" height="2" fill="#4e6a88"/><rect x="8" y="14" width="14" height="2" fill="#353f4d"/><rect x="22" y="14" width="2" height="2" fill="#4e6a88"/><rect x="24" y="14" width="4" height="2" fill="#d0d8e0"/><rect x="28" y="14" width="2" height="2" fill="#2c3644"/><rect x="0" y="16" width="2" height="2" fill="#2c3644"/><rect x="2" y="16" width="4" height="2" fill="#3c4858"/><rect x="6" y="16" width="4" height="2" fill="#4e6a88"/><rect x="10" y="16" width="10" height="2" fill="#353f4d"/><rect x="20" y="16" width="4" height="2" fill="#4e6a88"/><rect x="24" y="16" width="4" height="2" fill="#3c4858"/><rect x="28" y="16" width="2" height="2" fill="#2c3644"/><rect x="0" y="18" width="2" height="2" fill="#2c3644"/><rect x="2" y="18" width="6" height="2" fill="#3c4858"/><rect x="8" y="18" width="4" height="2" fill="#4e6a88"/><rect x="12" y="18" width="6" height="2" fill="#353f4d"/><rect x="18" y="18" width="4" height="2" fill="#4e6a88"/><rect x="22" y="18" width="6" height="2" fill="#3c4858"/><rect x="28" y="18" width="2" height="2" fill="#2c3644"/><rect x="0" y="20" width="2" height="2" fill="#2c3644"/><rect x="2" y="20" width="2" height="2" fill="#3c4858"/><rect x="4" y="20" width="2" height="2" fill="#2c3644"/><rect x="6" y="20" width="4" height="2" fill="#3c4858"/><rect x="10" y="20" width="10" height="2" fill="#4e6a88"/><rect x="20" y="20" width="4" height="2" fill="#3c4858"/><rect x="24" y="20" width="2" height="2" fill="#2c3644"/><rect x="26" y="20" width="2" height="2" fill="#3c4858"/><rect x="28" y="20" width="2" height="2" fill="#2c3644"/><rect x="0" y="22" width="2" height="2" fill="#2c3644"/><rect x="2" y="22" width="2" height="2" fill="#3c4858"/><rect x="4" y="22" width="2" height="2" fill="#2c3644"/><rect x="6" y="22" width="18" height="2" fill="#3c4858"/><rect x="24" y="22" width="2" height="2" fill="#2c3644"/><rect x="26" y="22" width="2" height="2" fill="#3c4858"/><rect x="28" y="22" width="2" height="2" fill="#2c3644"/><rect x="2" y="24" width="2" height="2" fill="#2c3644"/><rect x="4" y="24" width="22" height="2" fill="#3c4858"/><rect x="26" y="24" width="2" height="2" fill="#2c3644"/><rect x="4" y="26" width="4" height="2" fill="#2c3644"/><rect x="10" y="26" width="2" height="2" fill="#2c3644"/><rect x="14" y="26" width="2" height="2" fill="#2c3644"/><rect x="18" y="26" width="8" height="2" fill="#2c3644"/></svg>
<svg style="left:1155px;top:815px;" width="12" height="12"><rect x="4" y="0" width="4" height="2" fill="#ff7a1c"/><rect x="2" y="2" width="8" height="2" fill="#ff7a1c"/><rect x="0" y="4" width="12" height="2" fill="#ff7a1c"/><rect x="0" y="6" width="12" height="2" fill="#ff7a1c"/><rect x="2" y="8" width="8" height="2" fill="#ff7a1c"/><rect x="4" y="10" width="4" height="2" fill="#ff7a1c"/></svg>
<svg style="left:1187px;top:815px;" width="12" height="12"><rect x="4" y="0" width="4" height="2" fill="#3fa294"/><rect x="2" y="2" width="8" height="2" fill="#3fa294"/><rect x="0" y="4" width="12" height="2" fill="#3fa294"/><rect x="0" y="6" width="12" height="2" fill="#3fa294"/><rect x="2" y="8" width="8" height="2" fill="#3fa294"/><rect x="4" y="10" width="4" height="2" fill="#3fa294"/></svg>
<div class="node" style="left:1117px;top:999px;"></div>
<div class="badge" style="left:1236px;top:1006px;"></div>
<div class="tx" style="left:1176.5px;top:1008.12px;font-size:13.8px;color:#eef2f6;letter-spacing:0.55px;transform:translateX(-50%);">Animal Husbandry</div>
<div class="tx" style="left:1249px;top:1011.29px;font-size:19.5px;color:#ffffff;font-weight:bold;transform:translateX(-50%);">4</div>
<svg style="left:1142px;top:1037px;" width="22" height="16"><rect x="2" y="0" width="18" height="2" fill="#d08a5a"/><rect x="0" y="2" width="2" height="2" fill="#a85a3a"/><rect x="2" y="2" width="2" height="2" fill="#d08a5a"/><rect x="4" y="2" width="14" height="2" fill="#f6eee6"/><rect x="18" y="2" width="2" height="2" fill="#d08a5a"/><rect x="20" y="2" width="2" height="2" fill="#a85a3a"/><rect x="2" y="4" width="2" height="2" fill="#d08a5a"/><rect x="4" y="4" width="2" height="2" fill="#f6eee6"/><rect x="6" y="4" width="10" height="2" fill="#1c2a40"/><rect x="16" y="4" width="2" height="2" fill="#f6eee6"/><rect x="18" y="4" width="2" height="2" fill="#a85a3a"/><rect x="2" y="6" width="2" height="2" fill="#d08a5a"/><rect x="4" y="6" width="2" height="2" fill="#f6eee6"/><rect x="6" y="6" width="10" height="2" fill="#1c2a40"/><rect x="16" y="6" width="2" height="2" fill="#f6eee6"/><rect x="18" y="6" width="2" height="2" fill="#a85a3a"/><rect x="2" y="8" width="2" height="2" fill="#d08a5a"/><rect x="4" y="8" width="2" height="2" fill="#f6eee6"/><rect x="6" y="8" width="10" height="2" fill="#1c2a40"/><rect x="16" y="8" width="2" height="2" fill="#f6eee6"/><rect x="18" y="8" width="2" height="2" fill="#a85a3a"/><rect x="2" y="10" width="2" height="2" fill="#d08a5a"/><rect x="4" y="10" width="2" height="2" fill="#f6eee6"/><rect x="6" y="10" width="10" height="2" fill="#1c2a40"/><rect x="16" y="10" width="2" height="2" fill="#f6eee6"/><rect x="18" y="10" width="2" height="2" fill="#a85a3a"/><rect x="0" y="12" width="2" height="2" fill="#a85a3a"/><rect x="2" y="12" width="2" height="2" fill="#d08a5a"/><rect x="4" y="12" width="14" height="2" fill="#f6eee6"/><rect x="18" y="12" width="2" height="2" fill="#d08a5a"/><rect x="20" y="12" width="2" height="2" fill="#a85a3a"/><rect x="2" y="14" width="18" height="2" fill="#d08a5a"/></svg>
<svg style="left:1182px;top:1033px;" width="26" height="24"><rect x="2" y="0" width="20" height="2" fill="#c87850"/><rect x="0" y="2" width="2" height="2" fill="#c87850"/><rect x="2" y="2" width="20" height="2" fill="#a85a3a"/><rect x="22" y="2" width="2" height="2" fill="#c87850"/><rect x="0" y="4" width="2" height="2" fill="#c87850"/><rect x="2" y="4" width="20" height="2" fill="#a85a3a"/><rect x="22" y="4" width="2" height="2" fill="#c87850"/><rect x="0" y="6" width="2" height="2" fill="#c87850"/><rect x="2" y="6" width="8" height="2" fill="#a85a3a"/><rect x="10" y="6" width="6" height="2" fill="#8a4a30"/><rect x="16" y="6" width="6" height="2" fill="#a85a3a"/><rect x="22" y="6" width="2" height="2" fill="#c87850"/><rect x="0" y="8" width="2" height="2" fill="#c87850"/><rect x="2" y="8" width="6" height="2" fill="#a85a3a"/><rect x="8" y="8" width="10" height="2" fill="#8a4a30"/><rect x="18" y="8" width="4" height="2" fill="#a85a3a"/><rect x="22" y="8" width="2" height="2" fill="#c87850"/><rect x="0" y="10" width="2" height="2" fill="#c87850"/><rect x="2" y="10" width="8" height="2" fill="#a85a3a"/><rect x="10" y="10" width="6" height="2" fill="#8a4a30"/><rect x="16" y="10" width="6" height="2" fill="#a85a3a"/><rect x="22" y="10" width="2" height="2" fill="#c87850"/><rect x="0" y="12" width="2" height="2" fill="#c87850"/><rect x="2" y="12" width="10" height="2" fill="#a85a3a"/><rect x="12" y="12" width="2" height="2" fill="#8a4a30"/><rect x="14" y="12" width="8" height="2" fill="#a85a3a"/><rect x="22" y="12" width="2" height="2" fill="#c87850"/><rect x="0" y="14" width="2" height="2" fill="#c87850"/><rect x="2" y="14" width="20" height="2" fill="#a85a3a"/><rect x="22" y="14" width="2" height="2" fill="#c87850"/><rect x="0" y="16" width="2" height="2" fill="#c87850"/><rect x="2" y="16" width="20" height="2" fill="#a85a3a"/><rect x="22" y="16" width="2" height="2" fill="#c87850"/><rect x="0" y="18" width="2" height="2" fill="#c87850"/><rect x="2" y="18" width="22" height="2" fill="#8a4a30"/><rect x="24" y="18" width="2" height="2" fill="#c87850"/><rect x="0" y="20" width="2" height="2" fill="#c87850"/><rect x="2" y="20" width="8" height="2" fill="#8a4a30"/><rect x="10" y="20" width="4" height="2" fill="#c87850"/><rect x="14" y="20" width="10" height="2" fill="#8a4a30"/><rect x="24" y="20" width="2" height="2" fill="#c87850"/><rect x="0" y="22" width="2" height="2" fill="#c87850"/><rect x="2" y="22" width="8" height="2" fill="#8a4a30"/><rect x="10" y="22" width="2" height="2" fill="#c87850"/><rect x="12" y="22" width="2" height="2" fill="#8a4a30"/><rect x="14" y="22" width="2" height="2" fill="#c87850"/><rect x="16" y="22" width="8" height="2" fill="#8a4a30"/><rect x="24" y="22" width="2" height="2" fill="#c87850"/></svg>
<div class="a" style="left:98px;top:451px;width:136px;height:136px;background:#c4566c;"></div>
<div class="node" style="left:106px;top:459px;width:120px;height:119px;background:#3f5a78;box-shadow:inset 0 2px 0 #4d6886;"></div>
<div class="tx" style="left:166px;top:466.95px;font-size:16.6px;color:#eef2f6;letter-spacing:0.45px;transform:translateX(-50%);">Survival Basics</div>
<svg style="left:137px;top:492px;" width="10" height="20"><rect x="2" y="0" width="2" height="2" fill="#c03c1c"/><rect x="4" y="0" width="2" height="2" fill="#ff8a2a"/><rect x="6" y="0" width="2" height="2" fill="#c03c1c"/><rect x="0" y="2" width="2" height="2" fill="#c03c1c"/><rect x="2" y="2" width="2" height="2" fill="#ff8a2a"/><rect x="4" y="2" width="2" height="2" fill="#ffd02a"/><rect x="6" y="2" width="2" height="2" fill="#ff8a2a"/><rect x="8" y="2" width="2" height="2" fill="#c03c1c"/><rect x="0" y="4" width="2" height="2" fill="#c03c1c"/><rect x="2" y="4" width="2" height="2" fill="#ff8a2a"/><rect x="4" y="4" width="4" height="2" fill="#ffd02a"/><rect x="8" y="4" width="2" height="2" fill="#c03c1c"/><rect x="2" y="6" width="6" height="2" fill="#ffd02a"/><rect x="4" y="8" width="2" height="2" fill="#a85a36"/><rect x="2" y="10" width="2" height="2" fill="#6e3622"/><rect x="4" y="10" width="2" height="2" fill="#a85a36"/><rect x="6" y="10" width="2" height="2" fill="#6e3622"/><rect x="2" y="12" width="2" height="2" fill="#6e3622"/><rect x="4" y="12" width="2" height="2" fill="#a85a36"/><rect x="6" y="12" width="2" height="2" fill="#6e3622"/><rect x="2" y="14" width="2" height="2" fill="#6e3622"/><rect x="4" y="14" width="2" height="2" fill="#a85a36"/><rect x="6" y="14" width="2" height="2" fill="#6e3622"/><rect x="2" y="16" width="2" height="2" fill="#6e3622"/><rect x="4" y="16" width="2" height="2" fill="#a85a36"/><rect x="6" y="16" width="2" height="2" fill="#6e3622"/><rect x="4" y="18" width="2" height="2" fill="#6e3622"/></svg>
<svg style="left:169px;top:495px;" width="32" height="16"><rect x="8" y="0" width="16" height="2" fill="#8ee070"/><rect x="4" y="2" width="4" height="2" fill="#8ee070"/><rect x="8" y="2" width="16" height="2" fill="#4caf4a"/><rect x="24" y="2" width="4" height="2" fill="#8ee070"/><rect x="2" y="4" width="2" height="2" fill="#8ee070"/><rect x="4" y="4" width="24" height="2" fill="#4caf4a"/><rect x="28" y="4" width="2" height="2" fill="#8ee070"/><rect x="0" y="6" width="2" height="2" fill="#8ee070"/><rect x="2" y="6" width="28" height="2" fill="#4caf4a"/><rect x="30" y="6" width="2" height="2" fill="#8ee070"/><rect x="2" y="8" width="4" height="2" fill="#2e8a38"/><rect x="6" y="8" width="20" height="2" fill="#4caf4a"/><rect x="26" y="8" width="4" height="2" fill="#2e8a38"/><rect x="2" y="10" width="2" height="2" fill="#d08040"/><rect x="4" y="10" width="2" height="2" fill="#7a4020"/><rect x="8" y="10" width="16" height="2" fill="#2e8a38"/><rect x="26" y="10" width="2" height="2" fill="#d08040"/><rect x="28" y="10" width="2" height="2" fill="#7a4020"/><rect x="2" y="12" width="2" height="2" fill="#d08040"/><rect x="4" y="12" width="2" height="2" fill="#7a4020"/><rect x="26" y="12" width="2" height="2" fill="#d08040"/><rect x="28" y="12" width="2" height="2" fill="#7a4020"/><rect x="2" y="14" width="2" height="2" fill="#d08040"/><rect x="4" y="14" width="2" height="2" fill="#7a4020"/><rect x="26" y="14" width="2" height="2" fill="#d08040"/><rect x="28" y="14" width="2" height="2" fill="#7a4020"/></svg>
<svg style="left:128px;top:520px;" width="28" height="30"><rect x="8" y="0" width="14" height="2" fill="#c87444"/><rect x="6" y="2" width="18" height="2" fill="#f0b478"/><rect x="2" y="4" width="2" height="2" fill="#c87444"/><rect x="4" y="4" width="4" height="2" fill="#f0b478"/><rect x="8" y="4" width="14" height="2" fill="#6e3622"/><rect x="22" y="4" width="4" height="2" fill="#f0b478"/><rect x="26" y="4" width="2" height="2" fill="#c87444"/><rect x="0" y="6" width="2" height="2" fill="#c87444"/><rect x="2" y="6" width="2" height="2" fill="#d88c5c"/><rect x="4" y="6" width="4" height="2" fill="#f0b478"/><rect x="8" y="6" width="14" height="2" fill="#6e3622"/><rect x="22" y="6" width="4" height="2" fill="#f0b478"/><rect x="26" y="6" width="2" height="2" fill="#d88c5c"/><rect x="2" y="8" width="2" height="2" fill="#c87444"/><rect x="4" y="8" width="2" height="2" fill="#d88c5c"/><rect x="6" y="8" width="16" height="2" fill="#f0b478"/><rect x="22" y="8" width="2" height="2" fill="#d88c5c"/><rect x="24" y="8" width="2" height="2" fill="#c87444"/><rect x="2" y="10" width="2" height="2" fill="#a85a36"/><rect x="4" y="10" width="2" height="2" fill="#d88c5c"/><rect x="6" y="10" width="20" height="2" fill="#a85a36"/><rect x="2" y="12" width="4" height="2" fill="#a85a36"/><rect x="6" y="12" width="2" height="2" fill="#d88c5c"/><rect x="8" y="12" width="2" height="2" fill="#a85a36"/><rect x="10" y="12" width="2" height="2" fill="#6e3622"/><rect x="12" y="12" width="2" height="2" fill="#a85a36"/><rect x="14" y="12" width="2" height="2" fill="#d88c5c"/><rect x="16" y="12" width="2" height="2" fill="#a85a36"/><rect x="18" y="12" width="2" height="2" fill="#6e3622"/><rect x="20" y="12" width="6" height="2" fill="#a85a36"/><rect x="4" y="14" width="2" height="2" fill="#a85a36"/><rect x="6" y="14" width="2" height="2" fill="#d88c5c"/><rect x="8" y="14" width="2" height="2" fill="#a85a36"/><rect x="10" y="14" width="2" height="2" fill="#6e3622"/><rect x="12" y="14" width="2" height="2" fill="#a85a36"/><rect x="14" y="14" width="2" height="2" fill="#d88c5c"/><rect x="16" y="14" width="2" height="2" fill="#a85a36"/><rect x="18" y="14" width="2" height="2" fill="#6e3622"/><rect x="20" y="14" width="4" height="2" fill="#a85a36"/><rect x="4" y="16" width="2" height="2" fill="#a85a36"/><rect x="6" y="16" width="2" height="2" fill="#d88c5c"/><rect x="8" y="16" width="2" height="2" fill="#a85a36"/><rect x="10" y="16" width="2" height="2" fill="#6e3622"/><rect x="12" y="16" width="2" height="2" fill="#a85a36"/><rect x="14" y="16" width="2" height="2" fill="#d88c5c"/><rect x="16" y="16" width="2" height="2" fill="#a85a36"/><rect x="18" y="16" width="2" height="2" fill="#6e3622"/><rect x="20" y="16" width="4" height="2" fill="#a85a36"/><rect x="4" y="18" width="4" height="2" fill="#a85a36"/><rect x="8" y="18" width="2" height="2" fill="#d88c5c"/><rect x="10" y="18" width="2" height="2" fill="#6e3622"/><rect x="12" y="18" width="2" height="2" fill="#a85a36"/><rect x="14" y="18" width="2" height="2" fill="#d88c5c"/><rect x="16" y="18" width="2" height="2" fill="#a85a36"/><rect x="18" y="18" width="2" height="2" fill="#6e3622"/><rect x="20" y="18" width="2" height="2" fill="#d88c5c"/><rect x="22" y="18" width="2" height="2" fill="#a85a36"/><rect x="6" y="20" width="2" height="2" fill="#a85a36"/><rect x="8" y="20" width="2" height="2" fill="#d88c5c"/><rect x="10" y="20" width="2" height="2" fill="#6e3622"/><rect x="12" y="20" width="2" height="2" fill="#a85a36"/><rect x="14" y="20" width="2" height="2" fill="#d88c5c"/><rect x="16" y="20" width="2" height="2" fill="#a85a36"/><rect x="18" y="20" width="2" height="2" fill="#6e3622"/><rect x="20" y="20" width="2" height="2" fill="#a85a36"/><rect x="6" y="22" width="2" height="2" fill="#a85a36"/><rect x="8" y="22" width="2" height="2" fill="#d88c5c"/><rect x="10" y="22" width="2" height="2" fill="#6e3622"/><rect x="12" y="22" width="2" height="2" fill="#a85a36"/><rect x="14" y="22" width="2" height="2" fill="#d88c5c"/><rect x="16" y="22" width="2" height="2" fill="#a85a36"/><rect x="18" y="22" width="2" height="2" fill="#6e3622"/><rect x="20" y="22" width="2" height="2" fill="#a85a36"/><rect x="8" y="24" width="2" height="2" fill="#a85a36"/><rect x="10" y="24" width="2" height="2" fill="#d88c5c"/><rect x="12" y="24" width="8" height="2" fill="#a85a36"/><rect x="8" y="26" width="12" height="2" fill="#a85a36"/><rect x="10" y="28" width="8" height="2" fill="#a85a36"/></svg>
<svg style="left:169px;top:523px;" width="30" height="26"><rect x="2" y="0" width="8" height="2" fill="#50182c"/><rect x="12" y="0" width="4" height="2" fill="#50182c"/><rect x="18" y="0" width="8" height="2" fill="#50182c"/><rect x="0" y="2" width="4" height="2" fill="#50182c"/><rect x="4" y="2" width="4" height="2" fill="#f8ece8"/><rect x="8" y="2" width="4" height="2" fill="#50182c"/><rect x="12" y="2" width="4" height="2" fill="#f8ece8"/><rect x="16" y="2" width="4" height="2" fill="#50182c"/><rect x="20" y="2" width="4" height="2" fill="#f8ece8"/><rect x="24" y="2" width="4" height="2" fill="#50182c"/><rect x="0" y="4" width="2" height="2" fill="#50182c"/><rect x="2" y="4" width="2" height="2" fill="#a85a36"/><rect x="4" y="4" width="20" height="2" fill="#f8ece8"/><rect x="24" y="4" width="2" height="2" fill="#a85a36"/><rect x="26" y="4" width="2" height="2" fill="#50182c"/><rect x="0" y="6" width="2" height="2" fill="#50182c"/><rect x="2" y="6" width="2" height="2" fill="#a85a36"/><rect x="4" y="6" width="20" height="2" fill="#f8ece8"/><rect x="24" y="6" width="2" height="2" fill="#a85a36"/><rect x="26" y="6" width="2" height="2" fill="#50182c"/><rect x="0" y="8" width="2" height="2" fill="#50182c"/><rect x="2" y="8" width="2" height="2" fill="#a85a36"/><rect x="4" y="8" width="4" height="2" fill="#f0d4d0"/><rect x="8" y="8" width="2" height="2" fill="#f8ece8"/><rect x="10" y="8" width="6" height="2" fill="#f0d4d0"/><rect x="16" y="8" width="2" height="2" fill="#f8ece8"/><rect x="18" y="8" width="6" height="2" fill="#f0d4d0"/><rect x="24" y="8" width="2" height="2" fill="#a85a36"/><rect x="26" y="8" width="2" height="2" fill="#50182c"/><rect x="0" y="10" width="2" height="2" fill="#50182c"/><rect x="2" y="10" width="2" height="2" fill="#a85a36"/><rect x="4" y="10" width="20" height="2" fill="#f0d4d0"/><rect x="24" y="10" width="2" height="2" fill="#a85a36"/><rect x="26" y="10" width="2" height="2" fill="#50182c"/><rect x="0" y="12" width="2" height="2" fill="#50182c"/><rect x="2" y="12" width="2" height="2" fill="#a85a36"/><rect x="4" y="12" width="2" height="2" fill="#f8ece8"/><rect x="6" y="12" width="6" height="2" fill="#f0d4d0"/><rect x="12" y="12" width="2" height="2" fill="#f8ece8"/><rect x="14" y="12" width="6" height="2" fill="#f0d4d0"/><rect x="20" y="12" width="4" height="2" fill="#f8ece8"/><rect x="24" y="12" width="2" height="2" fill="#a85a36"/><rect x="26" y="12" width="2" height="2" fill="#50182c"/><rect x="0" y="14" width="2" height="2" fill="#50182c"/><rect x="2" y="14" width="2" height="2" fill="#a85a36"/><rect x="4" y="14" width="20" height="2" fill="#f8ece8"/><rect x="24" y="14" width="2" height="2" fill="#a85a36"/><rect x="26" y="14" width="2" height="2" fill="#50182c"/><rect x="0" y="16" width="2" height="2" fill="#50182c"/><rect x="2" y="16" width="2" height="2" fill="#a85a36"/><rect x="4" y="16" width="20" height="2" fill="#f8ece8"/><rect x="24" y="16" width="2" height="2" fill="#a85a36"/><rect x="26" y="16" width="2" height="2" fill="#50182c"/><rect x="0" y="18" width="2" height="2" fill="#50182c"/><rect x="2" y="18" width="2" height="2" fill="#a85a36"/><rect x="4" y="18" width="4" height="2" fill="#f8ece8"/><rect x="8" y="18" width="4" height="2" fill="#50182c"/><rect x="12" y="18" width="4" height="2" fill="#f8ece8"/><rect x="16" y="18" width="4" height="2" fill="#50182c"/><rect x="20" y="18" width="4" height="2" fill="#f8ece8"/><rect x="24" y="18" width="2" height="2" fill="#a85a36"/><rect x="26" y="18" width="2" height="2" fill="#50182c"/><rect x="0" y="20" width="2" height="2" fill="#50182c"/><rect x="2" y="20" width="2" height="2" fill="#a85a36"/><rect x="4" y="20" width="4" height="2" fill="#50182c"/><rect x="10" y="20" width="4" height="2" fill="#50182c"/><rect x="18" y="20" width="6" height="2" fill="#50182c"/><rect x="24" y="20" width="2" height="2" fill="#a85a36"/><rect x="26" y="20" width="2" height="2" fill="#50182c"/><rect x="0" y="22" width="2" height="2" fill="#50182c"/><rect x="2" y="22" width="2" height="2" fill="#d88c5c"/><rect x="4" y="22" width="2" height="2" fill="#a85a36"/><rect x="20" y="22" width="2" height="2" fill="#50182c"/><rect x="22" y="22" width="2" height="2" fill="#d88c5c"/><rect x="24" y="22" width="2" height="2" fill="#a85a36"/><rect x="26" y="22" width="2" height="2" fill="#50182c"/><rect x="2" y="24" width="2" height="2" fill="#50182c"/><rect x="22" y="24" width="2" height="2" fill="#50182c"/></svg>
<div id="panel" class="a"><div id="phead" class="a"></div></div>
<div class="a xbtn" style="left:1775px;top:190px;width:51px;height:50px;"></div>
<svg style="left:1790px;top:204px;" width="22" height="22"><rect x="0" y="0" width="4" height="2" fill="#d6e8f6"/><rect x="18" y="0" width="4" height="2" fill="#d6e8f6"/><rect x="0" y="2" width="6" height="2" fill="#d6e8f6"/><rect x="16" y="2" width="6" height="2" fill="#d6e8f6"/><rect x="2" y="4" width="6" height="2" fill="#d6e8f6"/><rect x="14" y="4" width="6" height="2" fill="#d6e8f6"/><rect x="4" y="6" width="6" height="2" fill="#d6e8f6"/><rect x="12" y="6" width="6" height="2" fill="#d6e8f6"/><rect x="6" y="8" width="10" height="2" fill="#d6e8f6"/><rect x="8" y="10" width="6" height="2" fill="#d6e8f6"/><rect x="6" y="12" width="10" height="2" fill="#d6e8f6"/><rect x="4" y="14" width="6" height="2" fill="#d6e8f6"/><rect x="12" y="14" width="6" height="2" fill="#d6e8f6"/><rect x="2" y="16" width="6" height="2" fill="#d6e8f6"/><rect x="14" y="16" width="6" height="2" fill="#d6e8f6"/><rect x="0" y="18" width="6" height="2" fill="#d6e8f6"/><rect x="16" y="18" width="6" height="2" fill="#d6e8f6"/><rect x="0" y="20" width="4" height="2" fill="#d6e8f6"/><rect x="18" y="20" width="4" height="2" fill="#d6e8f6"/></svg>
<div class="tx" style="left:1307.3px;top:202.30px;font-size:28px;color:#f6eef0;">Basic</div>
<div class="tx" style="left:1306.4px;top:260.56px;font-size:18px;color:#f0f2f4;transform:scaleX(1.067);transform-origin:0 0;">Clean up messes and pick up precious items!</div>
<div class="lbl" style="left:1308px;top:362px;width:110px;"></div>
<div class="lbl" style="left:1451px;top:362px;width:290px;"></div>
<div class="lbl" style="left:1308px;top:402px;width:110px;"></div>
<div class="lbl" style="left:1451px;top:402px;width:290px;"></div>
<div class="lbl" style="left:1308px;top:442px;width:110px;"></div>
<div class="tx" style="left:1311.0px;top:368.05px;font-size:19.2px;color:#f2f4f6;transform:scaleX(1.11);transform-origin:0 0;">Afflatus</div>
<div class="tx" style="left:1311.0px;top:408.15px;font-size:19.2px;color:#f2f4f6;">Research</div>
<div class="tx" style="left:1311.0px;top:447.65px;font-size:19.2px;color:#f2f4f6;">Research</div>
<div class="tx" style="left:1454.2px;top:368.05px;font-size:19.2px;color:#f2f4f6;">-1</div>
<div class="tx" style="left:1453.7px;top:408.15px;font-size:19.2px;color:#f2f4f6;transform:scaleX(1.04);transform-origin:0 0;">0 / 60</div>
<div class="rrow" style="left:1453px;top:445px;"></div>
<div class="tx" style="left:1540px;top:452.25px;font-size:19.2px;color:#f2f4f6;transform:translateX(-50%);">Wood</div>
<div class="tx" style="left:1664.5px;top:452.25px;font-size:19.2px;color:#9bdc22;transform:translateX(-50%);">121 / 20</div>
<svg style="left:1457px;top:445px;" width="30" height="28"><rect x="20" y="0" width="2" height="2" fill="#8cc83a"/><rect x="18" y="2" width="2" height="2" fill="#a85a36"/><rect x="20" y="2" width="2" height="2" fill="#8cc83a"/><rect x="22" y="2" width="4" height="2" fill="#e8621c"/><rect x="16" y="4" width="14" height="2" fill="#e8621c"/><rect x="12" y="6" width="10" height="2" fill="#e8621c"/><rect x="22" y="6" width="2" height="2" fill="#ff8a2a"/><rect x="24" y="6" width="4" height="2" fill="#e8621c"/><rect x="28" y="6" width="2" height="2" fill="#a85a36"/><rect x="8" y="8" width="4" height="2" fill="#e8621c"/><rect x="12" y="8" width="2" height="2" fill="#ff8a2a"/><rect x="14" y="8" width="16" height="2" fill="#e8621c"/><rect x="4" y="10" width="14" height="2" fill="#e8621c"/><rect x="18" y="10" width="2" height="2" fill="#ff8a2a"/><rect x="20" y="10" width="8" height="2" fill="#e8621c"/><rect x="28" y="10" width="2" height="2" fill="#a85a36"/><rect x="2" y="12" width="26" height="2" fill="#e8621c"/><rect x="0" y="14" width="2" height="2" fill="#e8621c"/><rect x="2" y="14" width="2" height="2" fill="#ff8a2a"/><rect x="4" y="14" width="6" height="2" fill="#e8621c"/><rect x="10" y="14" width="2" height="2" fill="#ff8a2a"/><rect x="12" y="14" width="12" height="2" fill="#e8621c"/><rect x="24" y="14" width="2" height="2" fill="#a85a36"/><rect x="0" y="16" width="2" height="2" fill="#e8621c"/><rect x="2" y="16" width="2" height="2" fill="#c03c1c"/><rect x="4" y="16" width="2" height="2" fill="#e8621c"/><rect x="6" y="16" width="2" height="2" fill="#ff8a2a"/><rect x="8" y="16" width="14" height="2" fill="#e8621c"/><rect x="22" y="16" width="2" height="2" fill="#a85a36"/><rect x="0" y="18" width="2" height="2" fill="#e8621c"/><rect x="2" y="18" width="2" height="2" fill="#c03c1c"/><rect x="4" y="18" width="14" height="2" fill="#e8621c"/><rect x="18" y="18" width="4" height="2" fill="#a85a36"/><rect x="0" y="20" width="2" height="2" fill="#e8621c"/><rect x="2" y="20" width="2" height="2" fill="#c03c1c"/><rect x="4" y="20" width="2" height="2" fill="#e8621c"/><rect x="6" y="20" width="2" height="2" fill="#ff8a2a"/><rect x="8" y="20" width="8" height="2" fill="#e8621c"/><rect x="16" y="20" width="4" height="2" fill="#a85a36"/><rect x="0" y="22" width="14" height="2" fill="#e8621c"/><rect x="14" y="22" width="2" height="2" fill="#a85a36"/><rect x="2" y="24" width="6" height="2" fill="#e8621c"/><rect x="8" y="24" width="6" height="2" fill="#a85a36"/><rect x="4" y="26" width="6" height="2" fill="#a85a36"/></svg>
<div class="rrow" style="left:1453px;top:477px;"></div>
<div class="tx" style="left:1540px;top:484.25px;font-size:19.2px;color:#f2f4f6;transform:translateX(-50%);">Seaweed</div>
<div class="tx" style="left:1664.5px;top:484.25px;font-size:19.2px;color:#9bdc22;transform:translateX(-50%);">93 / 20</div>
<svg style="left:1462px;top:481px;" width="20" height="20"><rect x="10" y="0" width="2" height="2" fill="#3c9a3c"/><rect x="16" y="0" width="2" height="2" fill="#3c9a3c"/><rect x="4" y="2" width="2" height="2" fill="#a0f07a"/><rect x="10" y="2" width="4" height="2" fill="#3c9a3c"/><rect x="16" y="2" width="2" height="2" fill="#3c9a3c"/><rect x="18" y="2" width="2" height="2" fill="#a0f07a"/><rect x="2" y="4" width="2" height="2" fill="#3c9a3c"/><rect x="4" y="4" width="2" height="2" fill="#a0f07a"/><rect x="6" y="4" width="2" height="2" fill="#3c9a3c"/><rect x="10" y="4" width="4" height="2" fill="#3c9a3c"/><rect x="16" y="4" width="2" height="2" fill="#3c9a3c"/><rect x="0" y="6" width="2" height="2" fill="#2e7a36"/><rect x="2" y="6" width="2" height="2" fill="#3c9a3c"/><rect x="4" y="6" width="2" height="2" fill="#a0f07a"/><rect x="6" y="6" width="4" height="2" fill="#3c9a3c"/><rect x="10" y="6" width="2" height="2" fill="#2e7a36"/><rect x="12" y="6" width="6" height="2" fill="#3c9a3c"/><rect x="0" y="8" width="2" height="2" fill="#2e7a36"/><rect x="2" y="8" width="4" height="2" fill="#3c9a3c"/><rect x="6" y="8" width="2" height="2" fill="#2e7a36"/><rect x="8" y="8" width="2" height="2" fill="#3c9a3c"/><rect x="10" y="8" width="2" height="2" fill="#a0f07a"/><rect x="12" y="8" width="2" height="2" fill="#2e7a36"/><rect x="14" y="8" width="4" height="2" fill="#3c9a3c"/><rect x="0" y="10" width="2" height="2" fill="#2e7a36"/><rect x="2" y="10" width="2" height="2" fill="#3c9a3c"/><rect x="4" y="10" width="2" height="2" fill="#2e7a36"/><rect x="6" y="10" width="4" height="2" fill="#3c9a3c"/><rect x="10" y="10" width="2" height="2" fill="#a0f07a"/><rect x="12" y="10" width="2" height="2" fill="#2e7a36"/><rect x="14" y="10" width="2" height="2" fill="#3c9a3c"/><rect x="16" y="10" width="2" height="2" fill="#2e7a36"/><rect x="0" y="12" width="2" height="2" fill="#2e7a36"/><rect x="2" y="12" width="2" height="2" fill="#3c9a3c"/><rect x="4" y="12" width="2" height="2" fill="#2e7a36"/><rect x="6" y="12" width="2" height="2" fill="#3c9a3c"/><rect x="8" y="12" width="2" height="2" fill="#a0f07a"/><rect x="10" y="12" width="2" height="2" fill="#3c9a3c"/><rect x="12" y="12" width="6" height="2" fill="#2e7a36"/><rect x="0" y="14" width="6" height="2" fill="#2e7a36"/><rect x="6" y="14" width="2" height="2" fill="#3c9a3c"/><rect x="8" y="14" width="2" height="2" fill="#a0f07a"/><rect x="10" y="14" width="2" height="2" fill="#3c9a3c"/><rect x="12" y="14" width="6" height="2" fill="#2e7a36"/><rect x="2" y="16" width="6" height="2" fill="#2e7a36"/><rect x="8" y="16" width="2" height="2" fill="#3c9a3c"/><rect x="10" y="16" width="6" height="2" fill="#2e7a36"/><rect x="4" y="18" width="8" height="2" fill="#2e7a36"/></svg>
<div class="rrow" style="left:1453px;top:509px;"></div>
<div class="tx" style="left:1540px;top:516.25px;font-size:19.2px;color:#f2f4f6;transform:translateX(-50%);">Iron</div>
<div class="tx" style="left:1664.5px;top:516.25px;font-size:19.2px;color:#9bdc22;transform:translateX(-50%);">20 / 15</div>
<svg style="left:1462px;top:513px;" width="20" height="20"><rect x="6" y="0" width="8" height="2" fill="#141824"/><rect x="4" y="2" width="2" height="2" fill="#141824"/><rect x="6" y="2" width="6" height="2" fill="#c4c4c8"/><rect x="12" y="2" width="2" height="2" fill="#8e8e94"/><rect x="14" y="2" width="2" height="2" fill="#141824"/><rect x="2" y="4" width="2" height="2" fill="#141824"/><rect x="4" y="4" width="2" height="2" fill="#c4c4c8"/><rect x="6" y="4" width="2" height="2" fill="#8e8e94"/><rect x="8" y="4" width="2" height="2" fill="#141824"/><rect x="10" y="4" width="4" height="2" fill="#c4c4c8"/><rect x="14" y="4" width="2" height="2" fill="#8e8e94"/><rect x="16" y="4" width="2" height="2" fill="#141824"/><rect x="0" y="6" width="2" height="2" fill="#141824"/><rect x="2" y="6" width="4" height="2" fill="#c4c4c8"/><rect x="6" y="6" width="2" height="2" fill="#141824"/><rect x="8" y="6" width="2" height="2" fill="#c4c4c8"/><rect x="10" y="6" width="2" height="2" fill="#141824"/><rect x="12" y="6" width="2" height="2" fill="#8e8e94"/><rect x="14" y="6" width="2" height="2" fill="#c4c4c8"/><rect x="16" y="6" width="2" height="2" fill="#8e8e94"/><rect x="18" y="6" width="2" height="2" fill="#141824"/><rect x="0" y="8" width="2" height="2" fill="#141824"/><rect x="2" y="8" width="2" height="2" fill="#8e8e94"/><rect x="4" y="8" width="4" height="2" fill="#c4c4c8"/><rect x="8" y="8" width="2" height="2" fill="#141824"/><rect x="10" y="8" width="4" height="2" fill="#c4c4c8"/><rect x="14" y="8" width="2" height="2" fill="#141824"/><rect x="16" y="8" width="2" height="2" fill="#8e8e94"/><rect x="18" y="8" width="2" height="2" fill="#141824"/><rect x="0" y="10" width="2" height="2" fill="#141824"/><rect x="2" y="10" width="2" height="2" fill="#8e8e94"/><rect x="4" y="10" width="2" height="2" fill="#141824"/><rect x="6" y="10" width="4" height="2" fill="#c4c4c8"/><rect x="10" y="10" width="2" height="2" fill="#141824"/><rect x="12" y="10" width="4" height="2" fill="#c4c4c8"/><rect x="16" y="10" width="2" height="2" fill="#6a6a70"/><rect x="18" y="10" width="2" height="2" fill="#141824"/><rect x="0" y="12" width="2" height="2" fill="#141824"/><rect x="2" y="12" width="2" height="2" fill="#6a6a70"/><rect x="4" y="12" width="2" height="2" fill="#8e8e94"/><rect x="6" y="12" width="2" height="2" fill="#c4c4c8"/><rect x="8" y="12" width="2" height="2" fill="#141824"/><rect x="10" y="12" width="2" height="2" fill="#c4c4c8"/><rect x="12" y="12" width="2" height="2" fill="#8e8e94"/><rect x="14" y="12" width="2" height="2" fill="#c4c4c8"/><rect x="16" y="12" width="2" height="2" fill="#6a6a70"/><rect x="18" y="12" width="2" height="2" fill="#141824"/><rect x="2" y="14" width="2" height="2" fill="#141824"/><rect x="4" y="14" width="2" height="2" fill="#6a6a70"/><rect x="6" y="14" width="2" height="2" fill="#8e8e94"/><rect x="8" y="14" width="4" height="2" fill="#c4c4c8"/><rect x="12" y="14" width="2" height="2" fill="#8e8e94"/><rect x="14" y="14" width="2" height="2" fill="#6a6a70"/><rect x="16" y="14" width="2" height="2" fill="#141824"/><rect x="4" y="16" width="2" height="2" fill="#141824"/><rect x="6" y="16" width="10" height="2" fill="#6a6a70"/><rect x="16" y="16" width="2" height="2" fill="#141824"/><rect x="6" y="18" width="8" height="2" fill="#141824"/></svg>
<div id="rbtn" class="a"></div>
<div class="tx" style="left:1562.5px;top:832.45px;font-size:19.2px;color:#f6f0f2;transform:translateX(-50%);">Research</div>
<div class="a" style="left:1900px;top:130px;width:20px;height:950px;background:#6a8cb0;"></div>
<div class="a" style="left:1902px;top:999px;width:16px;height:61px;background:#3d4f68;border-radius:2px;"></div>
<div class="a" style="left:0px;top:1060px;width:1900px;height:20px;background:#6a8cb0;"></div>
<div class="a" style="left:1883px;top:1062px;width:17px;height:15px;background:#3d4f68;"></div>
<div class="a" style="left:1903px;top:1063px;width:15px;height:17px;background:#233a5a;"></div>
</body></html>
